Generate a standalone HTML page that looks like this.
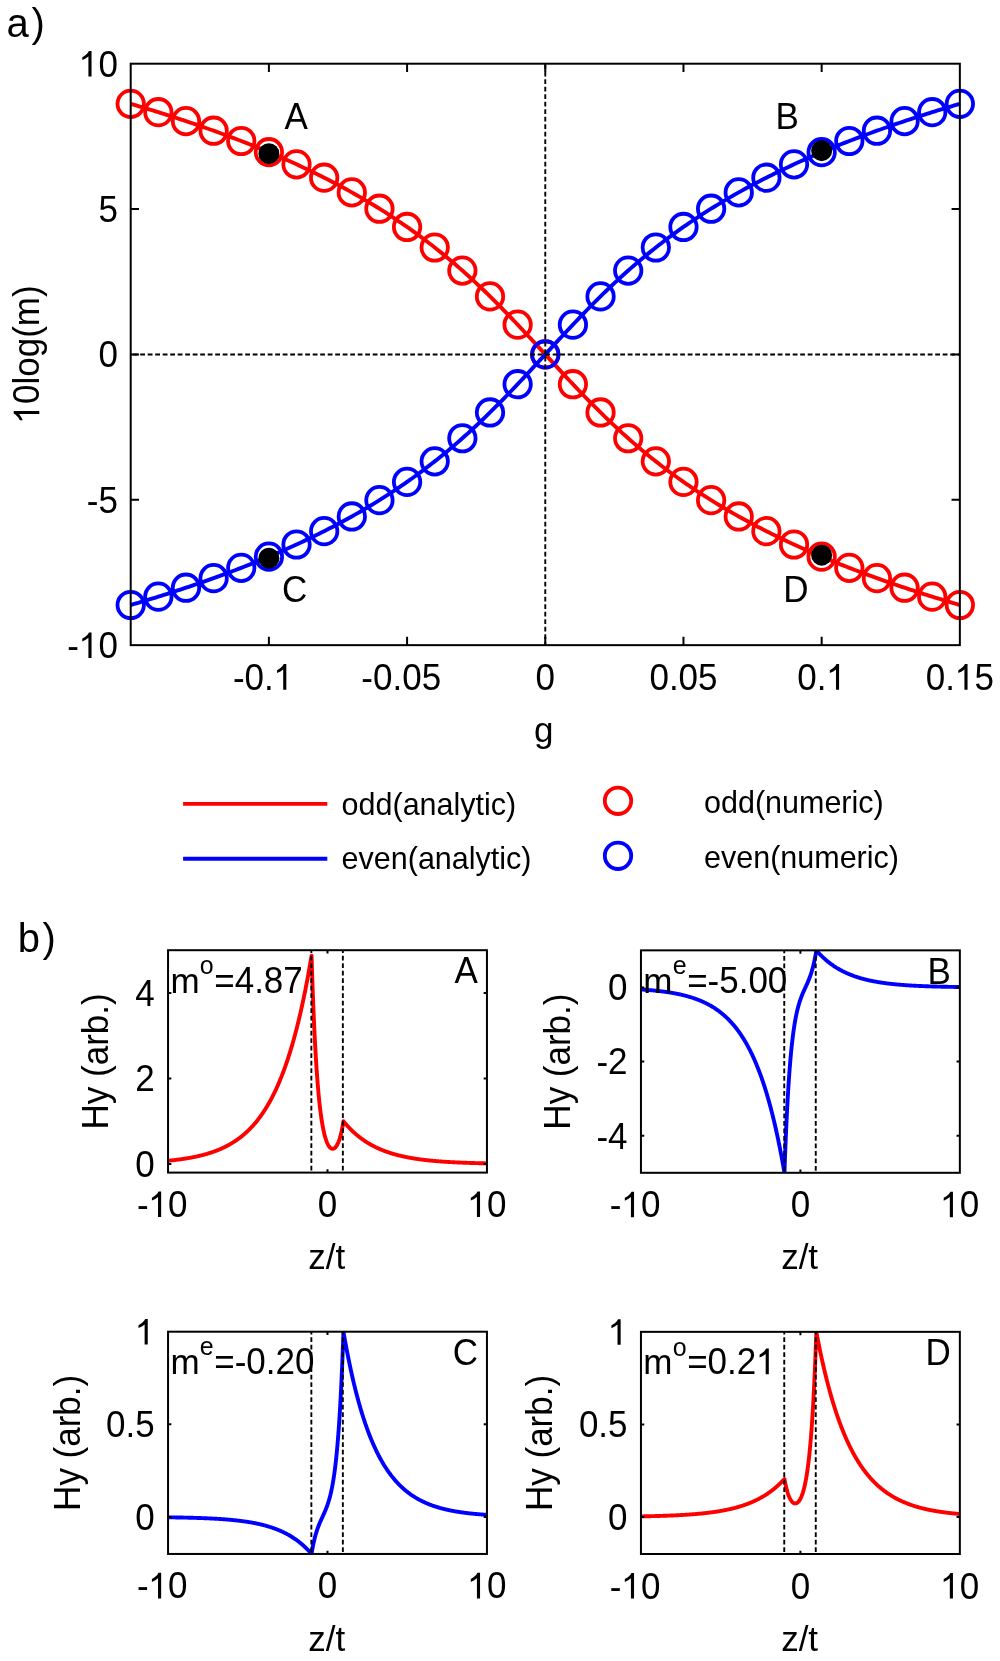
<!DOCTYPE html>
<html><head><meta charset="utf-8"><style>
html,body{margin:0;padding:0;background:#fff;}
svg{display:block;will-change:transform;}
text{font-family:"Liberation Sans",sans-serif;fill:#000;}
</style></head><body>
<svg width="1000" height="1661" viewBox="0 0 1000 1661">
<rect width="1000" height="1661" fill="#fff"/>
<path d="M130.7,103.83 L133.46,104.64 L136.23,105.46 L138.99,106.28 L141.76,107.11 L144.52,107.94 L147.28,108.78 L150.05,109.63 L152.81,110.48 L155.57,111.33 L158.34,112.19 L161.1,113.06 L163.87,113.93 L166.63,114.81 L169.39,115.69 L172.16,116.58 L174.92,117.48 L177.69,118.38 L180.45,119.29 L183.21,120.21 L185.98,121.13 L188.74,122.05 L191.5,122.99 L194.27,123.93 L197.03,124.88 L199.8,125.83 L202.56,126.79 L205.32,127.76 L208.09,128.73 L210.85,129.72 L213.62,130.7 L216.38,131.7 L219.14,132.71 L221.91,133.72 L224.67,134.74 L227.43,135.76 L230.2,136.8 L232.96,137.84 L235.73,138.89 L238.49,139.95 L241.25,141.02 L244.02,142.1 L246.78,143.18 L249.54,144.28 L252.31,145.38 L255.07,146.49 L257.84,147.61 L260.6,148.74 L263.36,149.88 L266.13,151.03 L268.89,152.19 L271.66,153.36 L274.42,154.54 L277.18,155.73 L279.95,156.93 L282.71,158.14 L285.47,159.36 L288.24,160.59 L291,161.83 L293.77,163.09 L296.53,164.35 L299.29,165.63 L302.06,166.92 L304.82,168.22 L307.59,169.53 L310.35,170.86 L313.11,172.2 L315.88,173.55 L318.64,174.91 L321.4,176.29 L324.17,177.68 L326.93,179.08 L329.7,180.5 L332.46,181.93 L335.22,183.38 L337.99,184.84 L340.75,186.32 L343.52,187.81 L346.28,189.32 L349.04,190.84 L351.81,192.38 L354.57,193.93 L357.33,195.5 L360.1,197.09 L362.86,198.69 L365.63,200.32 L368.39,201.96 L371.15,203.62 L373.92,205.29 L376.68,206.99 L379.44,208.7 L382.21,210.44 L384.97,212.19 L387.74,213.96 L390.5,215.75 L393.26,217.57 L396.03,219.4 L398.79,221.26 L401.56,223.14 L404.32,225.04 L407.08,226.96 L409.85,228.9 L412.61,230.87 L415.37,232.86 L418.14,234.88 L420.9,236.91 L423.67,238.98 L426.43,241.07 L429.19,243.18 L431.96,245.32 L434.72,247.48 L437.49,249.67 L440.25,251.88 L443.01,254.13 L445.78,256.4 L448.54,258.69 L451.3,261.01 L454.07,263.36 L456.83,265.74 L459.6,268.14 L462.36,270.58 L465.12,273.04 L467.89,275.52 L470.65,278.04 L473.42,280.58 L476.18,283.15 L478.94,285.74 L481.71,288.37 L484.47,291.01 L487.23,293.69 L490,296.39 L492.76,299.12 L495.53,301.87 L498.29,304.64 L501.05,307.44 L503.82,310.26 L506.58,313.1 L509.35,315.96 L512.11,318.84 L514.87,321.74 L517.64,324.65 L520.4,327.58 L523.16,330.53 L525.93,333.49 L528.69,336.46 L531.46,339.44 L534.22,342.42 L536.98,345.42 L539.75,348.42 L542.51,351.42 L545.28,354.43 L548.04,357.43 L550.8,360.43 L553.57,363.43 L556.33,366.43 L559.09,369.41 L561.86,372.39 L564.62,375.36 L567.39,378.32 L570.15,381.27 L572.91,384.2 L575.68,387.11 L578.44,390.01 L581.2,392.89 L583.97,395.75 L586.73,398.59 L589.5,401.41 L592.26,404.21 L595.02,406.98 L597.79,409.73 L600.55,412.46 L603.32,415.16 L606.08,417.84 L608.84,420.48 L611.61,423.11 L614.37,425.7 L617.13,428.27 L619.9,430.81 L622.66,433.33 L625.43,435.81 L628.19,438.27 L630.95,440.71 L633.72,443.11 L636.48,445.49 L639.25,447.84 L642.01,450.16 L644.77,452.45 L647.54,454.72 L650.3,456.97 L653.06,459.18 L655.83,461.37 L658.59,463.53 L661.36,465.67 L664.12,467.78 L666.88,469.87 L669.65,471.94 L672.41,473.97 L675.18,475.99 L677.94,477.98 L680.7,479.95 L683.47,481.89 L686.23,483.81 L688.99,485.71 L691.76,487.59 L694.52,489.45 L697.29,491.28 L700.05,493.1 L702.81,494.89 L705.58,496.66 L708.34,498.41 L711.11,500.15 L713.87,501.86 L716.63,503.56 L719.4,505.23 L722.16,506.89 L724.92,508.53 L727.69,510.16 L730.45,511.76 L733.22,513.35 L735.98,514.92 L738.74,516.47 L741.51,518.01 L744.27,519.53 L747.03,521.04 L749.8,522.53 L752.56,524.01 L755.33,525.47 L758.09,526.92 L760.85,528.35 L763.62,529.77 L766.38,531.17 L769.15,532.56 L771.91,533.94 L774.67,535.3 L777.44,536.65 L780.2,537.99 L782.96,539.32 L785.73,540.63 L788.49,541.93 L791.26,543.22 L794.02,544.5 L796.78,545.76 L799.55,547.02 L802.31,548.26 L805.08,549.49 L807.84,550.71 L810.6,551.92 L813.37,553.12 L816.13,554.31 L818.89,555.49 L821.66,556.66 L824.42,557.82 L827.19,558.97 L829.95,560.11 L832.71,561.24 L835.48,562.36 L838.24,563.47 L841.01,564.57 L843.77,565.67 L846.53,566.75 L849.3,567.83 L852.06,568.9 L854.82,569.96 L857.59,571.01 L860.35,572.05 L863.12,573.09 L865.88,574.11 L868.64,575.13 L871.41,576.14 L874.17,577.15 L876.94,578.15 L879.7,579.13 L882.46,580.12 L885.23,581.09 L887.99,582.06 L890.75,583.02 L893.52,583.97 L896.28,584.92 L899.05,585.86 L901.81,586.8 L904.57,587.72 L907.34,588.64 L910.1,589.56 L912.86,590.47 L915.63,591.37 L918.39,592.27 L921.16,593.16 L923.92,594.04 L926.68,594.92 L929.45,595.79 L932.21,596.66 L934.98,597.52 L937.74,598.37 L940.5,599.22 L943.27,600.07 L946.03,600.91 L948.79,601.74 L951.56,602.57 L954.32,603.39 L957.09,604.21 L959.85,605.02" stroke="#f00" stroke-width="3.9" fill="none"/>
<circle cx="130.7" cy="103.83" r="13.2" stroke="#f00" stroke-width="3.8" fill="none"/>
<circle cx="158.34" cy="112.19" r="13.2" stroke="#f00" stroke-width="3.8" fill="none"/>
<circle cx="185.98" cy="121.13" r="13.2" stroke="#f00" stroke-width="3.8" fill="none"/>
<circle cx="213.62" cy="130.7" r="13.2" stroke="#f00" stroke-width="3.8" fill="none"/>
<circle cx="241.25" cy="141.02" r="13.2" stroke="#f00" stroke-width="3.8" fill="none"/>
<circle cx="268.89" cy="152.19" r="13.2" stroke="#f00" stroke-width="3.8" fill="none"/>
<circle cx="296.53" cy="164.35" r="13.2" stroke="#f00" stroke-width="3.8" fill="none"/>
<circle cx="324.17" cy="177.68" r="13.2" stroke="#f00" stroke-width="3.8" fill="none"/>
<circle cx="351.81" cy="192.38" r="13.2" stroke="#f00" stroke-width="3.8" fill="none"/>
<circle cx="379.44" cy="208.7" r="13.2" stroke="#f00" stroke-width="3.8" fill="none"/>
<circle cx="407.08" cy="226.96" r="13.2" stroke="#f00" stroke-width="3.8" fill="none"/>
<circle cx="434.72" cy="247.48" r="13.2" stroke="#f00" stroke-width="3.8" fill="none"/>
<circle cx="462.36" cy="270.58" r="13.2" stroke="#f00" stroke-width="3.8" fill="none"/>
<circle cx="490" cy="296.39" r="13.2" stroke="#f00" stroke-width="3.8" fill="none"/>
<circle cx="517.64" cy="324.65" r="13.2" stroke="#f00" stroke-width="3.8" fill="none"/>
<circle cx="545.28" cy="354.43" r="13.2" stroke="#f00" stroke-width="3.8" fill="none"/>
<circle cx="572.91" cy="384.2" r="13.2" stroke="#f00" stroke-width="3.8" fill="none"/>
<circle cx="600.55" cy="412.46" r="13.2" stroke="#f00" stroke-width="3.8" fill="none"/>
<circle cx="628.19" cy="438.27" r="13.2" stroke="#f00" stroke-width="3.8" fill="none"/>
<circle cx="655.83" cy="461.37" r="13.2" stroke="#f00" stroke-width="3.8" fill="none"/>
<circle cx="683.47" cy="481.89" r="13.2" stroke="#f00" stroke-width="3.8" fill="none"/>
<circle cx="711.11" cy="500.15" r="13.2" stroke="#f00" stroke-width="3.8" fill="none"/>
<circle cx="738.74" cy="516.47" r="13.2" stroke="#f00" stroke-width="3.8" fill="none"/>
<circle cx="766.38" cy="531.17" r="13.2" stroke="#f00" stroke-width="3.8" fill="none"/>
<circle cx="794.02" cy="544.5" r="13.2" stroke="#f00" stroke-width="3.8" fill="none"/>
<circle cx="821.66" cy="556.66" r="13.2" stroke="#f00" stroke-width="3.8" fill="none"/>
<circle cx="849.3" cy="567.83" r="13.2" stroke="#f00" stroke-width="3.8" fill="none"/>
<circle cx="876.94" cy="578.15" r="13.2" stroke="#f00" stroke-width="3.8" fill="none"/>
<circle cx="904.57" cy="587.72" r="13.2" stroke="#f00" stroke-width="3.8" fill="none"/>
<circle cx="932.21" cy="596.66" r="13.2" stroke="#f00" stroke-width="3.8" fill="none"/>
<circle cx="959.85" cy="605.02" r="13.2" stroke="#f00" stroke-width="3.8" fill="none"/>
<path d="M130.7,605.02 L133.46,604.21 L136.23,603.39 L138.99,602.57 L141.76,601.74 L144.52,600.91 L147.28,600.07 L150.05,599.22 L152.81,598.37 L155.57,597.52 L158.34,596.66 L161.1,595.79 L163.87,594.92 L166.63,594.04 L169.39,593.16 L172.16,592.27 L174.92,591.37 L177.69,590.47 L180.45,589.56 L183.21,588.64 L185.98,587.72 L188.74,586.8 L191.5,585.86 L194.27,584.92 L197.03,583.97 L199.8,583.02 L202.56,582.06 L205.32,581.09 L208.09,580.12 L210.85,579.13 L213.62,578.15 L216.38,577.15 L219.14,576.14 L221.91,575.13 L224.67,574.11 L227.43,573.09 L230.2,572.05 L232.96,571.01 L235.73,569.96 L238.49,568.9 L241.25,567.83 L244.02,566.75 L246.78,565.67 L249.54,564.57 L252.31,563.47 L255.07,562.36 L257.84,561.24 L260.6,560.11 L263.36,558.97 L266.13,557.82 L268.89,556.66 L271.66,555.49 L274.42,554.31 L277.18,553.12 L279.95,551.92 L282.71,550.71 L285.47,549.49 L288.24,548.26 L291,547.02 L293.77,545.76 L296.53,544.5 L299.29,543.22 L302.06,541.93 L304.82,540.63 L307.59,539.32 L310.35,537.99 L313.11,536.65 L315.88,535.3 L318.64,533.94 L321.4,532.56 L324.17,531.17 L326.93,529.77 L329.7,528.35 L332.46,526.92 L335.22,525.47 L337.99,524.01 L340.75,522.53 L343.52,521.04 L346.28,519.53 L349.04,518.01 L351.81,516.47 L354.57,514.92 L357.33,513.35 L360.1,511.76 L362.86,510.16 L365.63,508.53 L368.39,506.89 L371.15,505.23 L373.92,503.56 L376.68,501.86 L379.44,500.15 L382.21,498.41 L384.97,496.66 L387.74,494.89 L390.5,493.1 L393.26,491.28 L396.03,489.45 L398.79,487.59 L401.56,485.71 L404.32,483.81 L407.08,481.89 L409.85,479.95 L412.61,477.98 L415.37,475.99 L418.14,473.97 L420.9,471.94 L423.67,469.87 L426.43,467.78 L429.19,465.67 L431.96,463.53 L434.72,461.37 L437.49,459.18 L440.25,456.97 L443.01,454.72 L445.78,452.45 L448.54,450.16 L451.3,447.84 L454.07,445.49 L456.83,443.11 L459.6,440.71 L462.36,438.27 L465.12,435.81 L467.89,433.33 L470.65,430.81 L473.42,428.27 L476.18,425.7 L478.94,423.11 L481.71,420.48 L484.47,417.84 L487.23,415.16 L490,412.46 L492.76,409.73 L495.53,406.98 L498.29,404.21 L501.05,401.41 L503.82,398.59 L506.58,395.75 L509.35,392.89 L512.11,390.01 L514.87,387.11 L517.64,384.2 L520.4,381.27 L523.16,378.32 L525.93,375.36 L528.69,372.39 L531.46,369.41 L534.22,366.43 L536.98,363.43 L539.75,360.43 L542.51,357.43 L545.28,354.43 L548.04,351.42 L550.8,348.42 L553.57,345.42 L556.33,342.42 L559.09,339.44 L561.86,336.46 L564.62,333.49 L567.39,330.53 L570.15,327.58 L572.91,324.65 L575.68,321.74 L578.44,318.84 L581.2,315.96 L583.97,313.1 L586.73,310.26 L589.5,307.44 L592.26,304.64 L595.02,301.87 L597.79,299.12 L600.55,296.39 L603.32,293.69 L606.08,291.01 L608.84,288.37 L611.61,285.74 L614.37,283.15 L617.13,280.58 L619.9,278.04 L622.66,275.52 L625.43,273.04 L628.19,270.58 L630.95,268.14 L633.72,265.74 L636.48,263.36 L639.25,261.01 L642.01,258.69 L644.77,256.4 L647.54,254.13 L650.3,251.88 L653.06,249.67 L655.83,247.48 L658.59,245.32 L661.36,243.18 L664.12,241.07 L666.88,238.98 L669.65,236.91 L672.41,234.88 L675.18,232.86 L677.94,230.87 L680.7,228.9 L683.47,226.96 L686.23,225.04 L688.99,223.14 L691.76,221.26 L694.52,219.4 L697.29,217.57 L700.05,215.75 L702.81,213.96 L705.58,212.19 L708.34,210.44 L711.11,208.7 L713.87,206.99 L716.63,205.29 L719.4,203.62 L722.16,201.96 L724.92,200.32 L727.69,198.69 L730.45,197.09 L733.22,195.5 L735.98,193.93 L738.74,192.38 L741.51,190.84 L744.27,189.32 L747.03,187.81 L749.8,186.32 L752.56,184.84 L755.33,183.38 L758.09,181.93 L760.85,180.5 L763.62,179.08 L766.38,177.68 L769.15,176.29 L771.91,174.91 L774.67,173.55 L777.44,172.2 L780.2,170.86 L782.96,169.53 L785.73,168.22 L788.49,166.92 L791.26,165.63 L794.02,164.35 L796.78,163.09 L799.55,161.83 L802.31,160.59 L805.08,159.36 L807.84,158.14 L810.6,156.93 L813.37,155.73 L816.13,154.54 L818.89,153.36 L821.66,152.19 L824.42,151.03 L827.19,149.88 L829.95,148.74 L832.71,147.61 L835.48,146.49 L838.24,145.38 L841.01,144.28 L843.77,143.18 L846.53,142.1 L849.3,141.02 L852.06,139.95 L854.82,138.89 L857.59,137.84 L860.35,136.8 L863.12,135.76 L865.88,134.74 L868.64,133.72 L871.41,132.71 L874.17,131.7 L876.94,130.7 L879.7,129.72 L882.46,128.73 L885.23,127.76 L887.99,126.79 L890.75,125.83 L893.52,124.88 L896.28,123.93 L899.05,122.99 L901.81,122.05 L904.57,121.13 L907.34,120.21 L910.1,119.29 L912.86,118.38 L915.63,117.48 L918.39,116.58 L921.16,115.69 L923.92,114.81 L926.68,113.93 L929.45,113.06 L932.21,112.19 L934.98,111.33 L937.74,110.48 L940.5,109.63 L943.27,108.78 L946.03,107.94 L948.79,107.11 L951.56,106.28 L954.32,105.46 L957.09,104.64 L959.85,103.83" stroke="#00f" stroke-width="3.9" fill="none"/>
<circle cx="130.7" cy="605.02" r="13.2" stroke="#00f" stroke-width="3.8" fill="none"/>
<circle cx="158.34" cy="596.66" r="13.2" stroke="#00f" stroke-width="3.8" fill="none"/>
<circle cx="185.98" cy="587.72" r="13.2" stroke="#00f" stroke-width="3.8" fill="none"/>
<circle cx="213.62" cy="578.15" r="13.2" stroke="#00f" stroke-width="3.8" fill="none"/>
<circle cx="241.25" cy="567.83" r="13.2" stroke="#00f" stroke-width="3.8" fill="none"/>
<circle cx="268.89" cy="556.66" r="13.2" stroke="#00f" stroke-width="3.8" fill="none"/>
<circle cx="296.53" cy="544.5" r="13.2" stroke="#00f" stroke-width="3.8" fill="none"/>
<circle cx="324.17" cy="531.17" r="13.2" stroke="#00f" stroke-width="3.8" fill="none"/>
<circle cx="351.81" cy="516.47" r="13.2" stroke="#00f" stroke-width="3.8" fill="none"/>
<circle cx="379.44" cy="500.15" r="13.2" stroke="#00f" stroke-width="3.8" fill="none"/>
<circle cx="407.08" cy="481.89" r="13.2" stroke="#00f" stroke-width="3.8" fill="none"/>
<circle cx="434.72" cy="461.37" r="13.2" stroke="#00f" stroke-width="3.8" fill="none"/>
<circle cx="462.36" cy="438.27" r="13.2" stroke="#00f" stroke-width="3.8" fill="none"/>
<circle cx="490" cy="412.46" r="13.2" stroke="#00f" stroke-width="3.8" fill="none"/>
<circle cx="517.64" cy="384.2" r="13.2" stroke="#00f" stroke-width="3.8" fill="none"/>
<circle cx="545.28" cy="354.43" r="13.2" stroke="#00f" stroke-width="3.8" fill="none"/>
<circle cx="572.91" cy="324.65" r="13.2" stroke="#00f" stroke-width="3.8" fill="none"/>
<circle cx="600.55" cy="296.39" r="13.2" stroke="#00f" stroke-width="3.8" fill="none"/>
<circle cx="628.19" cy="270.58" r="13.2" stroke="#00f" stroke-width="3.8" fill="none"/>
<circle cx="655.83" cy="247.48" r="13.2" stroke="#00f" stroke-width="3.8" fill="none"/>
<circle cx="683.47" cy="226.96" r="13.2" stroke="#00f" stroke-width="3.8" fill="none"/>
<circle cx="711.11" cy="208.7" r="13.2" stroke="#00f" stroke-width="3.8" fill="none"/>
<circle cx="738.74" cy="192.38" r="13.2" stroke="#00f" stroke-width="3.8" fill="none"/>
<circle cx="766.38" cy="177.68" r="13.2" stroke="#00f" stroke-width="3.8" fill="none"/>
<circle cx="794.02" cy="164.35" r="13.2" stroke="#00f" stroke-width="3.8" fill="none"/>
<circle cx="821.66" cy="152.19" r="13.2" stroke="#00f" stroke-width="3.8" fill="none"/>
<circle cx="849.3" cy="141.02" r="13.2" stroke="#00f" stroke-width="3.8" fill="none"/>
<circle cx="876.94" cy="130.7" r="13.2" stroke="#00f" stroke-width="3.8" fill="none"/>
<circle cx="904.57" cy="121.13" r="13.2" stroke="#00f" stroke-width="3.8" fill="none"/>
<circle cx="932.21" cy="112.19" r="13.2" stroke="#00f" stroke-width="3.8" fill="none"/>
<circle cx="959.85" cy="103.83" r="13.2" stroke="#00f" stroke-width="3.8" fill="none"/>
<circle cx="268.89" cy="153.69" r="10.5" fill="#000"/>
<circle cx="821.66" cy="150.69" r="10.5" fill="#000"/>
<circle cx="268.89" cy="558.16" r="10.5" fill="#000"/>
<circle cx="821.66" cy="555.16" r="10.5" fill="#000"/>
<line x1="545.28" y1="63.7" x2="545.28" y2="645.15" stroke="#000" stroke-width="1.9" stroke-dasharray="4.8 2.7" stroke-dashoffset="6.9"/>
<line x1="130.7" y1="354.43" x2="959.85" y2="354.43" stroke="#000" stroke-width="1.9" stroke-dasharray="4.8 2.7" stroke-dashoffset="5.5"/>
<rect x="130.7" y="63.7" width="829.15" height="581.45" stroke="#000" stroke-width="2" fill="none"/>
<path d="M268.89,645.15 v-8.3 M268.89,63.7 v8.3" stroke="#000" stroke-width="2" fill="none"/>
<path d="M407.08,645.15 v-8.3 M407.08,63.7 v8.3" stroke="#000" stroke-width="2" fill="none"/>
<path d="M545.28,645.15 v-8.3 M545.28,63.7 v8.3" stroke="#000" stroke-width="2" fill="none"/>
<path d="M683.47,645.15 v-8.3 M683.47,63.7 v8.3" stroke="#000" stroke-width="2" fill="none"/>
<path d="M821.66,645.15 v-8.3 M821.66,63.7 v8.3" stroke="#000" stroke-width="2" fill="none"/>
<path d="M130.7,499.79 h8.3 M959.85,499.79 h-8.3" stroke="#000" stroke-width="2" fill="none"/>
<path d="M130.7,354.43 h8.3 M959.85,354.43 h-8.3" stroke="#000" stroke-width="2" fill="none"/>
<path d="M130.7,209.06 h8.3 M959.85,209.06 h-8.3" stroke="#000" stroke-width="2" fill="none"/>
<g transform="translate(263.06,689.65) scale(1,1.04)"><text x="-30.16" y="0" font-size="35" xml:space="preserve">-0.</text><path transform="translate(10.69,0) scale(35)" d="M0.359,0 V-0.703 H0.285 Q0.24,-0.61 0.095,-0.535 V-0.455 Q0.2,-0.5 0.27,-0.555 V0 Z"/></g>
<g transform="translate(401.25,689.65) scale(1,1.04)"><text x="-39.89" y="0" font-size="35" xml:space="preserve">-0.05</text></g>
<g transform="translate(545.28,689.65) scale(1,1.04)"><text x="-9.73" y="0" font-size="35" xml:space="preserve">0</text></g>
<g transform="translate(683.47,689.65) scale(1,1.04)"><text x="-34.06" y="0" font-size="35" xml:space="preserve">0.05</text></g>
<g transform="translate(821.66,689.65) scale(1,1.04)"><text x="-24.33" y="0" font-size="35" xml:space="preserve">0.</text><path transform="translate(4.86,0) scale(35)" d="M0.359,0 V-0.703 H0.285 Q0.24,-0.61 0.095,-0.535 V-0.455 Q0.2,-0.5 0.27,-0.555 V0 Z"/></g>
<g transform="translate(959.85,689.65) scale(1,1.04)"><text x="-34.06" y="0" font-size="35" xml:space="preserve">0.</text><path transform="translate(-4.87,0) scale(35)" d="M0.359,0 V-0.703 H0.285 Q0.24,-0.61 0.095,-0.535 V-0.455 Q0.2,-0.5 0.27,-0.555 V0 Z"/><text x="14.59" y="0" font-size="35" xml:space="preserve">5</text></g>
<g transform="translate(117.9,76.6) scale(1,1.04)"><path transform="translate(-38.93,0) scale(35)" d="M0.359,0 V-0.703 H0.285 Q0.24,-0.61 0.095,-0.535 V-0.455 Q0.2,-0.5 0.27,-0.555 V0 Z"/><text x="-19.47" y="0" font-size="35" xml:space="preserve">0</text></g>
<g transform="translate(117.9,221.96) scale(1,1.04)"><text x="-19.47" y="0" font-size="35" xml:space="preserve">5</text></g>
<g transform="translate(117.9,367.32) scale(1,1.04)"><text x="-19.47" y="0" font-size="35" xml:space="preserve">0</text></g>
<g transform="translate(117.9,512.69) scale(1,1.04)"><text x="-31.12" y="0" font-size="35" xml:space="preserve">-5</text></g>
<g transform="translate(117.9,658.05) scale(1,1.04)"><text x="-50.59" y="0" font-size="35" xml:space="preserve">-</text><path transform="translate(-38.93,0) scale(35)" d="M0.359,0 V-0.703 H0.285 Q0.24,-0.61 0.095,-0.535 V-0.455 Q0.2,-0.5 0.27,-0.555 V0 Z"/><text x="-19.47" y="0" font-size="35" xml:space="preserve">0</text></g>
<g transform="translate(543.78,742.45) scale(1,1.0)"><text x="-9.73" y="0" font-size="35" xml:space="preserve">g</text></g>
<g transform="translate(39.3,354.43) rotate(-90) scale(1,1.04)"><path transform="translate(-69.05,0) scale(35)" d="M0.359,0 V-0.703 H0.285 Q0.24,-0.61 0.095,-0.535 V-0.455 Q0.2,-0.5 0.27,-0.555 V0 Z"/><text x="-49.59" y="0" font-size="35" xml:space="preserve">0log(m)</text></g>
<g transform="translate(6.4,36.6) scale(1,1.0)"><text x="0" y="0" font-size="40" xml:space="preserve">a</text></g>
<g transform="translate(31.4,36.6) scale(1,1.0)"><text x="0" y="0" font-size="40" xml:space="preserve">)</text></g>
<g transform="translate(284.4,129.4) scale(1,1.044)"><text x="0" y="0" font-size="35" xml:space="preserve">A</text></g>
<g transform="translate(775.5,129.4) scale(1,1.044)"><text x="0" y="0" font-size="35" xml:space="preserve">B</text></g>
<g transform="translate(282,601.5) scale(1,1.044)"><text x="0" y="0" font-size="35" xml:space="preserve">C</text></g>
<g transform="translate(783.3,601.5) scale(1,1.044)"><text x="0" y="0" font-size="35" xml:space="preserve">D</text></g>
<path d="M183.1,803.85 H327.3" stroke="#f00" stroke-width="3.9"/>
<path d="M183.1,858.75 H327.3" stroke="#00f" stroke-width="3.9"/>
<circle cx="618" cy="800.8" r="13.2" stroke="#f00" stroke-width="3.8" fill="none"/>
<circle cx="618" cy="855.8" r="13.2" stroke="#00f" stroke-width="3.8" fill="none"/>
<g transform="translate(341.6,814.6) scale(1,1.0)"><text x="0" y="0" font-size="30.5" xml:space="preserve">odd(analytic)</text></g>
<g transform="translate(341.6,868.6) scale(1,1.0)"><text x="0" y="0" font-size="30.5" xml:space="preserve">even(analytic)</text></g>
<g transform="translate(704,812.8) scale(1,1.0)"><text x="0" y="0" font-size="30.5" xml:space="preserve">odd(numeric)</text></g>
<g transform="translate(704,868) scale(1,1.0)"><text x="0" y="0" font-size="30.5" xml:space="preserve">even(numeric)</text></g>
<g transform="translate(17.7,951.5) scale(1,1.0)"><text x="0" y="0" font-size="40" xml:space="preserve">b</text></g>
<g transform="translate(42.5,951.5) scale(1,1.0)"><text x="0" y="0" font-size="40" xml:space="preserve">)</text></g>
<clipPath id="cA"><rect x="168.05" y="950.2" width="318.9" height="222.4"/></clipPath>
<path d="M168.05,1160.73 L168.45,1160.69 L168.85,1160.65 L169.25,1160.61 L169.64,1160.57 L170.04,1160.53 L170.44,1160.49 L170.84,1160.45 L171.24,1160.41 L171.64,1160.37 L172.04,1160.33 L172.43,1160.28 L172.83,1160.24 L173.23,1160.19 L173.63,1160.15 L174.03,1160.11 L174.43,1160.06 L174.83,1160.01 L175.23,1159.97 L175.62,1159.92 L176.02,1159.87 L176.42,1159.82 L176.82,1159.77 L177.22,1159.73 L177.62,1159.68 L178.02,1159.62 L178.41,1159.57 L178.81,1159.52 L179.21,1159.47 L179.61,1159.42 L180.01,1159.36 L180.41,1159.31 L180.81,1159.25 L181.2,1159.2 L181.6,1159.14 L182,1159.09 L182.4,1159.03 L182.8,1158.97 L183.2,1158.91 L183.6,1158.85 L184,1158.79 L184.39,1158.73 L184.79,1158.67 L185.19,1158.61 L185.59,1158.55 L185.99,1158.48 L186.39,1158.42 L186.79,1158.35 L187.18,1158.29 L187.58,1158.22 L187.98,1158.15 L188.38,1158.08 L188.78,1158.02 L189.18,1157.95 L189.58,1157.87 L189.97,1157.8 L190.37,1157.73 L190.77,1157.66 L191.17,1157.58 L191.57,1157.51 L191.97,1157.43 L192.37,1157.36 L192.76,1157.28 L193.16,1157.2 L193.56,1157.12 L193.96,1157.04 L194.36,1156.96 L194.76,1156.88 L195.16,1156.8 L195.56,1156.71 L195.95,1156.63 L196.35,1156.54 L196.75,1156.46 L197.15,1156.37 L197.55,1156.28 L197.95,1156.19 L198.35,1156.1 L198.74,1156.01 L199.14,1155.91 L199.54,1155.82 L199.94,1155.72 L200.34,1155.63 L200.74,1155.53 L201.14,1155.43 L201.53,1155.33 L201.93,1155.23 L202.33,1155.13 L202.73,1155.03 L203.13,1154.92 L203.53,1154.82 L203.93,1154.71 L204.32,1154.6 L204.72,1154.49 L205.12,1154.38 L205.52,1154.27 L205.92,1154.16 L206.32,1154.04 L206.72,1153.93 L207.12,1153.81 L207.51,1153.69 L207.91,1153.57 L208.31,1153.45 L208.71,1153.33 L209.11,1153.2 L209.51,1153.08 L209.91,1152.95 L210.3,1152.82 L210.7,1152.69 L211.1,1152.56 L211.5,1152.43 L211.9,1152.3 L212.3,1152.16 L212.7,1152.02 L213.09,1151.88 L213.49,1151.74 L213.89,1151.6 L214.29,1151.46 L214.69,1151.31 L215.09,1151.16 L215.49,1151.01 L215.88,1150.86 L216.28,1150.71 L216.68,1150.56 L217.08,1150.4 L217.48,1150.24 L217.88,1150.08 L218.28,1149.92 L218.68,1149.76 L219.07,1149.59 L219.47,1149.43 L219.87,1149.26 L220.27,1149.09 L220.67,1148.91 L221.07,1148.74 L221.47,1148.56 L221.86,1148.38 L222.26,1148.2 L222.66,1148.02 L223.06,1147.83 L223.46,1147.64 L223.86,1147.45 L224.26,1147.26 L224.65,1147.07 L225.05,1146.87 L225.45,1146.67 L225.85,1146.47 L226.25,1146.27 L226.65,1146.06 L227.05,1145.86 L227.45,1145.65 L227.84,1145.43 L228.24,1145.22 L228.64,1145 L229.04,1144.78 L229.44,1144.56 L229.84,1144.33 L230.24,1144.1 L230.63,1143.87 L231.03,1143.64 L231.43,1143.4 L231.83,1143.16 L232.23,1142.92 L232.63,1142.68 L233.03,1142.43 L233.42,1142.18 L233.82,1141.93 L234.22,1141.67 L234.62,1141.41 L235.02,1141.15 L235.42,1140.89 L235.82,1140.62 L236.21,1140.35 L236.61,1140.07 L237.01,1139.8 L237.41,1139.52 L237.81,1139.23 L238.21,1138.95 L238.61,1138.65 L239.01,1138.36 L239.4,1138.06 L239.8,1137.76 L240.2,1137.46 L240.6,1137.15 L241,1136.84 L241.4,1136.53 L241.8,1136.21 L242.19,1135.89 L242.59,1135.56 L242.99,1135.23 L243.39,1134.9 L243.79,1134.56 L244.19,1134.22 L244.59,1133.87 L244.98,1133.53 L245.38,1133.17 L245.78,1132.82 L246.18,1132.45 L246.58,1132.09 L246.98,1131.72 L247.38,1131.34 L247.78,1130.97 L248.17,1130.58 L248.57,1130.2 L248.97,1129.81 L249.37,1129.41 L249.77,1129.01 L250.17,1128.6 L250.57,1128.19 L250.96,1127.78 L251.36,1127.36 L251.76,1126.94 L252.16,1126.51 L252.56,1126.07 L252.96,1125.63 L253.36,1125.19 L253.75,1124.74 L254.15,1124.28 L254.55,1123.82 L254.95,1123.36 L255.35,1122.89 L255.75,1122.41 L256.15,1121.93 L256.54,1121.44 L256.94,1120.95 L257.34,1120.45 L257.74,1119.95 L258.14,1119.44 L258.54,1118.92 L258.94,1118.4 L259.34,1117.87 L259.73,1117.34 L260.13,1116.8 L260.53,1116.25 L260.93,1115.7 L261.33,1115.14 L261.73,1114.57 L262.13,1114 L262.52,1113.42 L262.92,1112.84 L263.32,1112.24 L263.72,1111.65 L264.12,1111.04 L264.52,1110.43 L264.92,1109.81 L265.31,1109.18 L265.71,1108.54 L266.11,1107.9 L266.51,1107.25 L266.91,1106.6 L267.31,1105.93 L267.71,1105.26 L268.1,1104.58 L268.5,1103.89 L268.9,1103.2 L269.3,1102.49 L269.7,1101.78 L270.1,1101.06 L270.5,1100.33 L270.9,1099.59 L271.29,1098.85 L271.69,1098.1 L272.09,1097.33 L272.49,1096.56 L272.89,1095.78 L273.29,1094.99 L273.69,1094.19 L274.08,1093.38 L274.48,1092.57 L274.88,1091.74 L275.28,1090.9 L275.68,1090.06 L276.08,1089.2 L276.48,1088.34 L276.87,1087.46 L277.27,1086.57 L277.67,1085.68 L278.07,1084.77 L278.47,1083.86 L278.87,1082.93 L279.27,1081.99 L279.66,1081.04 L280.06,1080.08 L280.46,1079.11 L280.86,1078.13 L281.26,1077.13 L281.66,1076.13 L282.06,1075.11 L282.46,1074.08 L282.85,1073.04 L283.25,1071.99 L283.65,1070.92 L284.05,1069.85 L284.45,1068.76 L284.85,1067.66 L285.25,1066.54 L285.64,1065.41 L286.04,1064.27 L286.44,1063.12 L286.84,1061.95 L287.24,1060.77 L287.64,1059.57 L288.04,1058.37 L288.43,1057.14 L288.83,1055.91 L289.23,1054.66 L289.63,1053.39 L290.03,1052.11 L290.43,1050.82 L290.83,1049.51 L291.23,1048.18 L291.62,1046.84 L292.02,1045.49 L292.42,1044.12 L292.82,1042.73 L293.22,1041.33 L293.62,1039.91 L294.02,1038.47 L294.41,1037.02 L294.81,1035.55 L295.21,1034.06 L295.61,1032.56 L296.01,1031.04 L296.41,1029.5 L296.81,1027.94 L297.2,1026.37 L297.6,1024.78 L298,1023.17 L298.4,1021.54 L298.8,1019.89 L299.2,1018.22 L299.6,1016.53 L299.99,1014.83 L300.39,1013.1 L300.79,1011.36 L301.19,1009.59 L301.59,1007.8 L301.99,1006 L302.39,1004.17 L302.79,1002.32 L303.18,1000.45 L303.58,998.56 L303.98,996.64 L304.38,994.71 L304.78,992.75 L305.18,990.77 L305.58,988.76 L305.97,986.73 L306.37,984.68 L306.77,982.61 L307.17,980.51 L307.57,978.39 L307.97,976.24 L308.37,974.07 L308.76,971.87 L309.16,969.65 L309.56,967.4 L309.96,965.12 L310.36,962.82 L310.76,960.5 L311.16,958.14 L311.56,955.76 L311.95,968.34 L312.35,980.16 L312.75,991.27 L313.15,1001.69 L313.55,1011.48 L313.95,1020.68 L314.35,1029.31 L314.74,1037.42 L315.14,1045.04 L315.54,1052.19 L315.94,1058.9 L316.34,1065.2 L316.74,1071.12 L317.14,1076.67 L317.53,1081.88 L317.93,1086.77 L318.33,1091.35 L318.73,1095.66 L319.13,1099.69 L319.53,1103.48 L319.93,1107.03 L320.32,1110.35 L320.72,1113.47 L321.12,1116.38 L321.52,1119.12 L321.92,1121.67 L322.32,1124.06 L322.72,1126.3 L323.12,1128.38 L323.51,1130.33 L323.91,1132.15 L324.31,1133.84 L324.71,1135.41 L325.11,1136.87 L325.51,1138.22 L325.91,1139.48 L326.3,1140.64 L326.7,1141.7 L327.1,1142.68 L327.5,1143.58 L327.9,1144.39 L328.3,1145.13 L328.7,1145.8 L329.09,1146.39 L329.49,1146.91 L329.89,1147.37 L330.29,1147.76 L330.69,1148.09 L331.09,1148.36 L331.49,1148.56 L331.88,1148.71 L332.28,1148.79 L332.68,1148.82 L333.08,1148.78 L333.48,1148.69 L333.88,1148.53 L334.28,1148.32 L334.68,1148.04 L335.07,1147.7 L335.47,1147.3 L335.87,1146.83 L336.27,1146.3 L336.67,1145.69 L337.07,1145.02 L337.47,1144.27 L337.86,1143.44 L338.26,1142.53 L338.66,1141.54 L339.06,1140.46 L339.46,1139.29 L339.86,1138.02 L340.26,1136.64 L340.65,1135.17 L341.05,1133.58 L341.45,1131.87 L341.85,1130.03 L342.25,1128.06 L342.65,1125.95 L343.05,1123.69 L343.45,1121.28 L343.84,1121.77 L344.24,1122.25 L344.64,1122.73 L345.04,1123.2 L345.44,1123.67 L345.84,1124.13 L346.24,1124.58 L346.63,1125.04 L347.03,1125.48 L347.43,1125.92 L347.83,1126.36 L348.23,1126.79 L348.63,1127.22 L349.03,1127.64 L349.42,1128.05 L349.82,1128.46 L350.22,1128.87 L350.62,1129.27 L351.02,1129.67 L351.42,1130.06 L351.82,1130.45 L352.21,1130.84 L352.61,1131.22 L353.01,1131.59 L353.41,1131.96 L353.81,1132.33 L354.21,1132.69 L354.61,1133.05 L355.01,1133.41 L355.4,1133.76 L355.8,1134.1 L356.2,1134.44 L356.6,1134.78 L357,1135.12 L357.4,1135.45 L357.8,1135.78 L358.19,1136.1 L358.59,1136.42 L358.99,1136.73 L359.39,1137.05 L359.79,1137.36 L360.19,1137.66 L360.59,1137.96 L360.98,1138.26 L361.38,1138.56 L361.78,1138.85 L362.18,1139.13 L362.58,1139.42 L362.98,1139.7 L363.38,1139.98 L363.77,1140.25 L364.17,1140.53 L364.57,1140.8 L364.97,1141.06 L365.37,1141.32 L365.77,1141.58 L366.17,1141.84 L366.57,1142.1 L366.96,1142.35 L367.36,1142.59 L367.76,1142.84 L368.16,1143.08 L368.56,1143.32 L368.96,1143.56 L369.36,1143.79 L369.75,1144.02 L370.15,1144.25 L370.55,1144.48 L370.95,1144.7 L371.35,1144.92 L371.75,1145.14 L372.15,1145.36 L372.54,1145.57 L372.94,1145.78 L373.34,1145.99 L373.74,1146.2 L374.14,1146.4 L374.54,1146.61 L374.94,1146.8 L375.34,1147 L375.73,1147.2 L376.13,1147.39 L376.53,1147.58 L376.93,1147.77 L377.33,1147.95 L377.73,1148.14 L378.13,1148.32 L378.52,1148.5 L378.92,1148.68 L379.32,1148.85 L379.72,1149.03 L380.12,1149.2 L380.52,1149.37 L380.92,1149.54 L381.31,1149.7 L381.71,1149.87 L382.11,1150.03 L382.51,1150.19 L382.91,1150.35 L383.31,1150.5 L383.71,1150.66 L384.1,1150.81 L384.5,1150.96 L384.9,1151.11 L385.3,1151.26 L385.7,1151.41 L386.1,1151.55 L386.5,1151.69 L386.9,1151.84 L387.29,1151.97 L387.69,1152.11 L388.09,1152.25 L388.49,1152.38 L388.89,1152.52 L389.29,1152.65 L389.69,1152.78 L390.08,1152.91 L390.48,1153.04 L390.88,1153.16 L391.28,1153.29 L391.68,1153.41 L392.08,1153.53 L392.48,1153.65 L392.87,1153.77 L393.27,1153.89 L393.67,1154 L394.07,1154.12 L394.47,1154.23 L394.87,1154.34 L395.27,1154.46 L395.66,1154.56 L396.06,1154.67 L396.46,1154.78 L396.86,1154.89 L397.26,1154.99 L397.66,1155.09 L398.06,1155.2 L398.46,1155.3 L398.85,1155.4 L399.25,1155.5 L399.65,1155.59 L400.05,1155.69 L400.45,1155.79 L400.85,1155.88 L401.25,1155.97 L401.64,1156.07 L402.04,1156.16 L402.44,1156.25 L402.84,1156.34 L403.24,1156.43 L403.64,1156.51 L404.04,1156.6 L404.43,1156.68 L404.83,1156.77 L405.23,1156.85 L405.63,1156.93 L406.03,1157.02 L406.43,1157.1 L406.83,1157.18 L407.23,1157.25 L407.62,1157.33 L408.02,1157.41 L408.42,1157.48 L408.82,1157.56 L409.22,1157.63 L409.62,1157.71 L410.02,1157.78 L410.41,1157.85 L410.81,1157.92 L411.21,1157.99 L411.61,1158.06 L412.01,1158.13 L412.41,1158.2 L412.81,1158.26 L413.2,1158.33 L413.6,1158.4 L414,1158.46 L414.4,1158.52 L414.8,1158.59 L415.2,1158.65 L415.6,1158.71 L415.99,1158.77 L416.39,1158.83 L416.79,1158.89 L417.19,1158.95 L417.59,1159.01 L417.99,1159.07 L418.39,1159.12 L418.79,1159.18 L419.18,1159.24 L419.58,1159.29 L419.98,1159.34 L420.38,1159.4 L420.78,1159.45 L421.18,1159.5 L421.58,1159.56 L421.97,1159.61 L422.37,1159.66 L422.77,1159.71 L423.17,1159.76 L423.57,1159.81 L423.97,1159.86 L424.37,1159.9 L424.76,1159.95 L425.16,1160 L425.56,1160.04 L425.96,1160.09 L426.36,1160.14 L426.76,1160.18 L427.16,1160.22 L427.55,1160.27 L427.95,1160.31 L428.35,1160.35 L428.75,1160.4 L429.15,1160.44 L429.55,1160.48 L429.95,1160.52 L430.35,1160.56 L430.74,1160.6 L431.14,1160.64 L431.54,1160.68 L431.94,1160.72 L432.34,1160.75 L432.74,1160.79 L433.14,1160.83 L433.53,1160.87 L433.93,1160.9 L434.33,1160.94 L434.73,1160.97 L435.13,1161.01 L435.53,1161.04 L435.93,1161.08 L436.32,1161.11 L436.72,1161.15 L437.12,1161.18 L437.52,1161.21 L437.92,1161.24 L438.32,1161.28 L438.72,1161.31 L439.12,1161.34 L439.51,1161.37 L439.91,1161.4 L440.31,1161.43 L440.71,1161.46 L441.11,1161.49 L441.51,1161.52 L441.91,1161.55 L442.3,1161.58 L442.7,1161.61 L443.1,1161.63 L443.5,1161.66 L443.9,1161.69 L444.3,1161.72 L444.7,1161.74 L445.09,1161.77 L445.49,1161.79 L445.89,1161.82 L446.29,1161.85 L446.69,1161.87 L447.09,1161.9 L447.49,1161.92 L447.88,1161.94 L448.28,1161.97 L448.68,1161.99 L449.08,1162.02 L449.48,1162.04 L449.88,1162.06 L450.28,1162.08 L450.68,1162.11 L451.07,1162.13 L451.47,1162.15 L451.87,1162.17 L452.27,1162.19 L452.67,1162.22 L453.07,1162.24 L453.47,1162.26 L453.86,1162.28 L454.26,1162.3 L454.66,1162.32 L455.06,1162.34 L455.46,1162.36 L455.86,1162.38 L456.26,1162.4 L456.65,1162.41 L457.05,1162.43 L457.45,1162.45 L457.85,1162.47 L458.25,1162.49 L458.65,1162.51 L459.05,1162.52 L459.44,1162.54 L459.84,1162.56 L460.24,1162.57 L460.64,1162.59 L461.04,1162.61 L461.44,1162.62 L461.84,1162.64 L462.24,1162.66 L462.63,1162.67 L463.03,1162.69 L463.43,1162.7 L463.83,1162.72 L464.23,1162.73 L464.63,1162.75 L465.03,1162.76 L465.42,1162.78 L465.82,1162.79 L466.22,1162.81 L466.62,1162.82 L467.02,1162.84 L467.42,1162.85 L467.82,1162.86 L468.21,1162.88 L468.61,1162.89 L469.01,1162.9 L469.41,1162.92 L469.81,1162.93 L470.21,1162.94 L470.61,1162.95 L471,1162.97 L471.4,1162.98 L471.8,1162.99 L472.2,1163 L472.6,1163.02 L473,1163.03 L473.4,1163.04 L473.8,1163.05 L474.19,1163.06 L474.59,1163.07 L474.99,1163.08 L475.39,1163.1 L475.79,1163.11 L476.19,1163.12 L476.59,1163.13 L476.98,1163.14 L477.38,1163.15 L477.78,1163.16 L478.18,1163.17 L478.58,1163.18 L478.98,1163.19 L479.38,1163.2 L479.77,1163.21 L480.17,1163.22 L480.57,1163.23 L480.97,1163.24 L481.37,1163.25 L481.77,1163.26 L482.17,1163.26 L482.57,1163.27 L482.96,1163.28 L483.36,1163.29 L483.76,1163.3 L484.16,1163.31 L484.56,1163.32 L484.96,1163.32 L485.36,1163.33 L485.75,1163.34 L486.15,1163.35 L486.55,1163.36 L486.95,1163.37" stroke="#f00" stroke-width="3.9" fill="none" stroke-linejoin="round" clip-path="url(#cA)"/>
<line x1="311.35" y1="1172.6" x2="311.35" y2="950.2" stroke="#000" stroke-width="1.9" stroke-dasharray="4.8 2.7" stroke-dashoffset="5.5"/>
<line x1="342.85" y1="1172.6" x2="342.85" y2="950.2" stroke="#000" stroke-width="1.9" stroke-dasharray="4.8 2.7" stroke-dashoffset="5.5"/>
<rect x="168.05" y="950.2" width="318.9" height="222.4" stroke="#000" stroke-width="2" fill="none"/>
<path d="M327.5,1172.6 v-3.3 M327.5,950.2 v3.3" stroke="#000" stroke-width="2" fill="none"/>
<path d="M168.05,1164.05 h3.3 M486.95,1164.05 h-3.3" stroke="#000" stroke-width="2" fill="none"/>
<g transform="translate(154.65,1176.95) scale(1,1.04)"><text x="-19.47" y="0" font-size="35" xml:space="preserve">0</text></g>
<path d="M168.05,1078.51 h3.3 M486.95,1078.51 h-3.3" stroke="#000" stroke-width="2" fill="none"/>
<g transform="translate(154.65,1091.41) scale(1,1.04)"><text x="-19.47" y="0" font-size="35" xml:space="preserve">2</text></g>
<path d="M168.05,992.97 h3.3 M486.95,992.97 h-3.3" stroke="#000" stroke-width="2" fill="none"/>
<g transform="translate(154.65,1005.87) scale(1,1.04)"><text x="-19.47" y="0" font-size="35" xml:space="preserve">4</text></g>
<g transform="translate(162.22,1217.1) scale(1,1.04)"><text x="-25.29" y="0" font-size="35" xml:space="preserve">-</text><path transform="translate(-13.64,0) scale(35)" d="M0.359,0 V-0.703 H0.285 Q0.24,-0.61 0.095,-0.535 V-0.455 Q0.2,-0.5 0.27,-0.555 V0 Z"/><text x="5.83" y="0" font-size="35" xml:space="preserve">0</text></g>
<g transform="translate(327.5,1217.1) scale(1,1.04)"><text x="-9.73" y="0" font-size="35" xml:space="preserve">0</text></g>
<g transform="translate(486.95,1217.1) scale(1,1.04)"><path transform="translate(-19.47,0) scale(35)" d="M0.359,0 V-0.703 H0.285 Q0.24,-0.61 0.095,-0.535 V-0.455 Q0.2,-0.5 0.27,-0.555 V0 Z"/><text x="0" y="0" font-size="35" xml:space="preserve">0</text></g>
<g transform="translate(326.7,1269.2) scale(1,1.0)"><text x="-18.47" y="0" font-size="35" xml:space="preserve">z/t</text></g>
<g transform="translate(108.05,1061.4) rotate(-90) scale(1,1.04)"><text x="-68.06" y="0" font-size="35" xml:space="preserve">Hy (arb.)</text></g>
<g transform="translate(170.45,992.5) scale(1,1.0)"><text x="0" y="0" font-size="35" xml:space="preserve">m</text></g>
<g transform="translate(199.85,973.9) scale(1,1.0)"><text x="0" y="0" font-size="25" xml:space="preserve">o</text></g>
<g transform="translate(214.25,992.5) scale(1,1.04)"><text x="0" y="0" font-size="35" xml:space="preserve">=4.87</text></g>
<g transform="translate(477.95,983.4) scale(1,1.044)"><text x="-23.34" y="0" font-size="35" xml:space="preserve">A</text></g>
<clipPath id="cB"><rect x="640.95" y="950.35" width="318.9" height="222.45"/></clipPath>
<path d="M640.95,989.48 L641.35,989.51 L641.75,989.54 L642.15,989.56 L642.54,989.59 L642.94,989.62 L643.34,989.64 L643.74,989.67 L644.14,989.7 L644.54,989.73 L644.94,989.76 L645.33,989.79 L645.73,989.82 L646.13,989.85 L646.53,989.88 L646.93,989.91 L647.33,989.94 L647.73,989.97 L648.13,990 L648.52,990.04 L648.92,990.07 L649.32,990.1 L649.72,990.14 L650.12,990.17 L650.52,990.2 L650.92,990.24 L651.31,990.28 L651.71,990.31 L652.11,990.35 L652.51,990.38 L652.91,990.42 L653.31,990.46 L653.71,990.5 L654.1,990.54 L654.5,990.57 L654.9,990.61 L655.3,990.65 L655.7,990.7 L656.1,990.74 L656.5,990.78 L656.9,990.82 L657.29,990.86 L657.69,990.91 L658.09,990.95 L658.49,990.99 L658.89,991.04 L659.29,991.08 L659.69,991.13 L660.08,991.18 L660.48,991.22 L660.88,991.27 L661.28,991.32 L661.68,991.37 L662.08,991.42 L662.48,991.47 L662.87,991.52 L663.27,991.57 L663.67,991.62 L664.07,991.68 L664.47,991.73 L664.87,991.78 L665.27,991.84 L665.66,991.89 L666.06,991.95 L666.46,992.01 L666.86,992.07 L667.26,992.12 L667.66,992.18 L668.06,992.24 L668.46,992.3 L668.85,992.37 L669.25,992.43 L669.65,992.49 L670.05,992.55 L670.45,992.62 L670.85,992.68 L671.25,992.75 L671.64,992.82 L672.04,992.88 L672.44,992.95 L672.84,993.02 L673.24,993.09 L673.64,993.16 L674.04,993.24 L674.43,993.31 L674.83,993.38 L675.23,993.46 L675.63,993.53 L676.03,993.61 L676.43,993.69 L676.83,993.77 L677.22,993.85 L677.62,993.93 L678.02,994.01 L678.42,994.09 L678.82,994.18 L679.22,994.26 L679.62,994.35 L680.02,994.44 L680.41,994.52 L680.81,994.61 L681.21,994.7 L681.61,994.79 L682.01,994.89 L682.41,994.98 L682.81,995.08 L683.2,995.17 L683.6,995.27 L684,995.37 L684.4,995.47 L684.8,995.57 L685.2,995.67 L685.6,995.78 L685.99,995.88 L686.39,995.99 L686.79,996.1 L687.19,996.2 L687.59,996.31 L687.99,996.43 L688.39,996.54 L688.79,996.65 L689.18,996.77 L689.58,996.89 L689.98,997.01 L690.38,997.13 L690.78,997.25 L691.18,997.37 L691.58,997.5 L691.97,997.62 L692.37,997.75 L692.77,997.88 L693.17,998.01 L693.57,998.15 L693.97,998.28 L694.37,998.42 L694.76,998.56 L695.16,998.7 L695.56,998.84 L695.96,998.98 L696.36,999.13 L696.76,999.28 L697.16,999.42 L697.55,999.58 L697.95,999.73 L698.35,999.88 L698.75,1000.04 L699.15,1000.2 L699.55,1000.36 L699.95,1000.52 L700.35,1000.69 L700.74,1000.85 L701.14,1001.02 L701.54,1001.19 L701.94,1001.37 L702.34,1001.54 L702.74,1001.72 L703.14,1001.9 L703.53,1002.08 L703.93,1002.27 L704.33,1002.45 L704.73,1002.64 L705.13,1002.83 L705.53,1003.03 L705.93,1003.22 L706.32,1003.42 L706.72,1003.62 L707.12,1003.83 L707.52,1004.03 L707.92,1004.24 L708.32,1004.45 L708.72,1004.67 L709.11,1004.88 L709.51,1005.1 L709.91,1005.33 L710.31,1005.55 L710.71,1005.78 L711.11,1006.01 L711.51,1006.24 L711.91,1006.48 L712.3,1006.72 L712.7,1006.96 L713.1,1007.21 L713.5,1007.46 L713.9,1007.71 L714.3,1007.97 L714.7,1008.22 L715.09,1008.49 L715.49,1008.75 L715.89,1009.02 L716.29,1009.29 L716.69,1009.56 L717.09,1009.84 L717.49,1010.13 L717.88,1010.41 L718.28,1010.7 L718.68,1010.99 L719.08,1011.29 L719.48,1011.59 L719.88,1011.89 L720.28,1012.2 L720.68,1012.51 L721.07,1012.83 L721.47,1013.15 L721.87,1013.47 L722.27,1013.8 L722.67,1014.13 L723.07,1014.47 L723.47,1014.81 L723.86,1015.15 L724.26,1015.5 L724.66,1015.85 L725.06,1016.21 L725.46,1016.57 L725.86,1016.94 L726.26,1017.31 L726.65,1017.69 L727.05,1018.07 L727.45,1018.45 L727.85,1018.84 L728.25,1019.24 L728.65,1019.64 L729.05,1020.04 L729.44,1020.45 L729.84,1020.87 L730.24,1021.29 L730.64,1021.72 L731.04,1022.15 L731.44,1022.58 L731.84,1023.03 L732.24,1023.47 L732.63,1023.93 L733.03,1024.39 L733.43,1024.85 L733.83,1025.32 L734.23,1025.8 L734.63,1026.28 L735.03,1026.77 L735.42,1027.27 L735.82,1027.77 L736.22,1028.27 L736.62,1028.79 L737.02,1029.31 L737.42,1029.83 L737.82,1030.37 L738.21,1030.91 L738.61,1031.46 L739.01,1032.01 L739.41,1032.57 L739.81,1033.14 L740.21,1033.71 L740.61,1034.3 L741,1034.88 L741.4,1035.48 L741.8,1036.09 L742.2,1036.7 L742.6,1037.32 L743,1037.95 L743.4,1038.58 L743.8,1039.22 L744.19,1039.88 L744.59,1040.54 L744.99,1041.2 L745.39,1041.88 L745.79,1042.57 L746.19,1043.26 L746.59,1043.96 L746.98,1044.67 L747.38,1045.39 L747.78,1046.12 L748.18,1046.86 L748.58,1047.61 L748.98,1048.36 L749.38,1049.13 L749.77,1049.91 L750.17,1050.69 L750.57,1051.49 L750.97,1052.29 L751.37,1053.11 L751.77,1053.94 L752.17,1054.77 L752.57,1055.62 L752.96,1056.48 L753.36,1057.35 L753.76,1058.23 L754.16,1059.12 L754.56,1060.02 L754.96,1060.93 L755.36,1061.86 L755.75,1062.79 L756.15,1063.74 L756.55,1064.7 L756.95,1065.67 L757.35,1066.66 L757.75,1067.65 L758.15,1068.66 L758.54,1069.68 L758.94,1070.72 L759.34,1071.77 L759.74,1072.83 L760.14,1073.9 L760.54,1074.99 L760.94,1076.09 L761.33,1077.21 L761.73,1078.34 L762.13,1079.48 L762.53,1080.64 L762.93,1081.81 L763.33,1083 L763.73,1084.2 L764.13,1085.42 L764.52,1086.65 L764.92,1087.9 L765.32,1089.16 L765.72,1090.44 L766.12,1091.74 L766.52,1093.05 L766.92,1094.38 L767.31,1095.72 L767.71,1097.08 L768.11,1098.46 L768.51,1099.86 L768.91,1101.27 L769.31,1102.71 L769.71,1104.16 L770.1,1105.63 L770.5,1107.11 L770.9,1108.62 L771.3,1110.14 L771.7,1111.69 L772.1,1113.25 L772.5,1114.83 L772.89,1116.43 L773.29,1118.06 L773.69,1119.7 L774.09,1121.36 L774.49,1123.05 L774.89,1124.75 L775.29,1126.48 L775.69,1128.23 L776.08,1130 L776.48,1131.8 L776.88,1133.61 L777.28,1135.45 L777.68,1137.31 L778.08,1139.2 L778.48,1141.11 L778.87,1143.04 L779.27,1145 L779.67,1146.98 L780.07,1148.99 L780.47,1151.02 L780.87,1153.08 L781.27,1155.16 L781.66,1157.27 L782.06,1159.41 L782.46,1161.57 L782.86,1163.76 L783.26,1165.98 L783.66,1168.22 L784.06,1170.5 L784.46,1172.8 L784.85,1161.54 L785.25,1150.95 L785.65,1141.01 L786.05,1131.66 L786.45,1122.88 L786.85,1114.63 L787.25,1106.88 L787.64,1099.59 L788.04,1092.74 L788.44,1086.3 L788.84,1080.25 L789.24,1074.57 L789.64,1069.22 L790.04,1064.19 L790.43,1059.46 L790.83,1055.01 L791.23,1050.83 L791.63,1046.9 L792.03,1043.19 L792.43,1039.71 L792.83,1036.43 L793.22,1033.34 L793.62,1030.43 L794.02,1027.69 L794.42,1025.1 L794.82,1022.67 L795.22,1020.37 L795.62,1018.2 L796.02,1016.15 L796.41,1014.21 L796.81,1012.38 L797.21,1010.64 L797.61,1008.99 L798.01,1007.43 L798.41,1005.95 L798.81,1004.54 L799.2,1003.2 L799.6,1001.92 L800,1000.69 L800.4,999.52 L800.8,998.39 L801.2,997.31 L801.6,996.26 L801.99,995.25 L802.39,994.27 L802.79,993.32 L803.19,992.39 L803.59,991.48 L803.99,990.59 L804.39,989.7 L804.78,988.83 L805.18,987.96 L805.58,987.1 L805.98,986.23 L806.38,985.36 L806.78,984.48 L807.18,983.59 L807.58,982.68 L807.97,981.76 L808.37,980.81 L808.77,979.84 L809.17,978.84 L809.57,977.8 L809.97,976.73 L810.37,975.61 L810.76,974.45 L811.16,973.24 L811.56,971.97 L811.96,970.64 L812.36,969.25 L812.76,967.78 L813.16,966.24 L813.55,964.62 L813.95,962.9 L814.35,961.09 L814.75,959.18 L815.15,957.16 L815.55,955.02 L815.95,952.75 L816.35,950.35 L816.74,950.81 L817.14,951.27 L817.54,951.71 L817.94,952.16 L818.34,952.6 L818.74,953.03 L819.14,953.46 L819.53,953.88 L819.93,954.29 L820.33,954.71 L820.73,955.11 L821.13,955.51 L821.53,955.91 L821.93,956.3 L822.32,956.69 L822.72,957.07 L823.12,957.45 L823.52,957.82 L823.92,958.19 L824.32,958.55 L824.72,958.91 L825.11,959.26 L825.51,959.61 L825.91,959.96 L826.31,960.3 L826.71,960.64 L827.11,960.97 L827.51,961.3 L827.91,961.62 L828.3,961.94 L828.7,962.26 L829.1,962.57 L829.5,962.88 L829.9,963.19 L830.3,963.49 L830.7,963.78 L831.09,964.08 L831.49,964.37 L831.89,964.66 L832.29,964.94 L832.69,965.22 L833.09,965.49 L833.49,965.77 L833.88,966.03 L834.28,966.3 L834.68,966.56 L835.08,966.82 L835.48,967.08 L835.88,967.33 L836.28,967.58 L836.67,967.83 L837.07,968.07 L837.47,968.31 L837.87,968.55 L838.27,968.78 L838.67,969.01 L839.07,969.24 L839.47,969.47 L839.86,969.69 L840.26,969.91 L840.66,970.13 L841.06,970.34 L841.46,970.56 L841.86,970.77 L842.26,970.97 L842.65,971.18 L843.05,971.38 L843.45,971.58 L843.85,971.78 L844.25,971.97 L844.65,972.16 L845.05,972.35 L845.44,972.54 L845.84,972.72 L846.24,972.91 L846.64,973.09 L847.04,973.26 L847.44,973.44 L847.84,973.61 L848.24,973.79 L848.63,973.96 L849.03,974.12 L849.43,974.29 L849.83,974.45 L850.23,974.61 L850.63,974.77 L851.03,974.93 L851.42,975.08 L851.82,975.24 L852.22,975.39 L852.62,975.54 L853.02,975.69 L853.42,975.83 L853.82,975.98 L854.21,976.12 L854.61,976.26 L855.01,976.4 L855.41,976.53 L855.81,976.67 L856.21,976.8 L856.61,976.93 L857,977.07 L857.4,977.19 L857.8,977.32 L858.2,977.45 L858.6,977.57 L859,977.69 L859.4,977.81 L859.8,977.93 L860.19,978.05 L860.59,978.17 L860.99,978.28 L861.39,978.4 L861.79,978.51 L862.19,978.62 L862.59,978.73 L862.98,978.84 L863.38,978.94 L863.78,979.05 L864.18,979.15 L864.58,979.26 L864.98,979.36 L865.38,979.46 L865.77,979.56 L866.17,979.65 L866.57,979.75 L866.97,979.85 L867.37,979.94 L867.77,980.03 L868.17,980.12 L868.56,980.22 L868.96,980.3 L869.36,980.39 L869.76,980.48 L870.16,980.57 L870.56,980.65 L870.96,980.74 L871.36,980.82 L871.75,980.9 L872.15,980.98 L872.55,981.06 L872.95,981.14 L873.35,981.22 L873.75,981.3 L874.15,981.37 L874.54,981.45 L874.94,981.52 L875.34,981.6 L875.74,981.67 L876.14,981.74 L876.54,981.81 L876.94,981.88 L877.33,981.95 L877.73,982.02 L878.13,982.08 L878.53,982.15 L878.93,982.22 L879.33,982.28 L879.73,982.34 L880.12,982.41 L880.52,982.47 L880.92,982.53 L881.32,982.59 L881.72,982.65 L882.12,982.71 L882.52,982.77 L882.92,982.83 L883.31,982.88 L883.71,982.94 L884.11,983 L884.51,983.05 L884.91,983.11 L885.31,983.16 L885.71,983.21 L886.1,983.27 L886.5,983.32 L886.9,983.37 L887.3,983.42 L887.7,983.47 L888.1,983.52 L888.5,983.57 L888.89,983.61 L889.29,983.66 L889.69,983.71 L890.09,983.75 L890.49,983.8 L890.89,983.84 L891.29,983.89 L891.69,983.93 L892.08,983.98 L892.48,984.02 L892.88,984.06 L893.28,984.1 L893.68,984.14 L894.08,984.19 L894.48,984.23 L894.87,984.27 L895.27,984.3 L895.67,984.34 L896.07,984.38 L896.47,984.42 L896.87,984.46 L897.27,984.49 L897.66,984.53 L898.06,984.57 L898.46,984.6 L898.86,984.64 L899.26,984.67 L899.66,984.71 L900.06,984.74 L900.45,984.77 L900.85,984.81 L901.25,984.84 L901.65,984.87 L902.05,984.9 L902.45,984.93 L902.85,984.96 L903.25,984.99 L903.64,985.03 L904.04,985.05 L904.44,985.08 L904.84,985.11 L905.24,985.14 L905.64,985.17 L906.04,985.2 L906.43,985.23 L906.83,985.25 L907.23,985.28 L907.63,985.31 L908.03,985.33 L908.43,985.36 L908.83,985.39 L909.22,985.41 L909.62,985.44 L910.02,985.46 L910.42,985.48 L910.82,985.51 L911.22,985.53 L911.62,985.56 L912.02,985.58 L912.41,985.6 L912.81,985.62 L913.21,985.65 L913.61,985.67 L914.01,985.69 L914.41,985.71 L914.81,985.73 L915.2,985.75 L915.6,985.78 L916,985.8 L916.4,985.82 L916.8,985.84 L917.2,985.86 L917.6,985.88 L917.99,985.89 L918.39,985.91 L918.79,985.93 L919.19,985.95 L919.59,985.97 L919.99,985.99 L920.39,986.01 L920.78,986.02 L921.18,986.04 L921.58,986.06 L921.98,986.07 L922.38,986.09 L922.78,986.11 L923.18,986.12 L923.58,986.14 L923.97,986.16 L924.37,986.17 L924.77,986.19 L925.17,986.2 L925.57,986.22 L925.97,986.23 L926.37,986.25 L926.76,986.26 L927.16,986.28 L927.56,986.29 L927.96,986.31 L928.36,986.32 L928.76,986.33 L929.16,986.35 L929.55,986.36 L929.95,986.37 L930.35,986.39 L930.75,986.4 L931.15,986.41 L931.55,986.42 L931.95,986.44 L932.34,986.45 L932.74,986.46 L933.14,986.47 L933.54,986.49 L933.94,986.5 L934.34,986.51 L934.74,986.52 L935.14,986.53 L935.53,986.54 L935.93,986.55 L936.33,986.56 L936.73,986.57 L937.13,986.59 L937.53,986.6 L937.93,986.61 L938.32,986.62 L938.72,986.63 L939.12,986.64 L939.52,986.65 L939.92,986.66 L940.32,986.67 L940.72,986.67 L941.11,986.68 L941.51,986.69 L941.91,986.7 L942.31,986.71 L942.71,986.72 L943.11,986.73 L943.51,986.74 L943.9,986.75 L944.3,986.75 L944.7,986.76 L945.1,986.77 L945.5,986.78 L945.9,986.79 L946.3,986.8 L946.7,986.8 L947.09,986.81 L947.49,986.82 L947.89,986.83 L948.29,986.83 L948.69,986.84 L949.09,986.85 L949.49,986.85 L949.88,986.86 L950.28,986.87 L950.68,986.88 L951.08,986.88 L951.48,986.89 L951.88,986.9 L952.28,986.9 L952.67,986.91 L953.07,986.92 L953.47,986.92 L953.87,986.93 L954.27,986.93 L954.67,986.94 L955.07,986.95 L955.47,986.95 L955.86,986.96 L956.26,986.96 L956.66,986.97 L957.06,986.98 L957.46,986.98 L957.86,986.99 L958.26,986.99 L958.65,987 L959.05,987 L959.45,987.01 L959.85,987.01" stroke="#00f" stroke-width="3.9" fill="none" stroke-linejoin="round" clip-path="url(#cB)"/>
<line x1="784.25" y1="1172.8" x2="784.25" y2="950.35" stroke="#000" stroke-width="1.9" stroke-dasharray="4.8 2.7" stroke-dashoffset="5.5"/>
<line x1="815.75" y1="1172.8" x2="815.75" y2="950.35" stroke="#000" stroke-width="1.9" stroke-dasharray="4.8 2.7" stroke-dashoffset="5.5"/>
<rect x="640.95" y="950.35" width="318.9" height="222.45" stroke="#000" stroke-width="2" fill="none"/>
<path d="M800.4,1172.8 v-3.3 M800.4,950.35 v3.3" stroke="#000" stroke-width="2" fill="none"/>
<path d="M640.95,987.42 h3.3 M959.85,987.42 h-3.3" stroke="#000" stroke-width="2" fill="none"/>
<g transform="translate(627.55,1000.32) scale(1,1.04)"><text x="-19.47" y="0" font-size="35" xml:space="preserve">0</text></g>
<path d="M640.95,1061.58 h3.3 M959.85,1061.58 h-3.3" stroke="#000" stroke-width="2" fill="none"/>
<g transform="translate(627.55,1074.48) scale(1,1.04)"><text x="-31.12" y="0" font-size="35" xml:space="preserve">-2</text></g>
<path d="M640.95,1135.72 h3.3 M959.85,1135.72 h-3.3" stroke="#000" stroke-width="2" fill="none"/>
<g transform="translate(627.55,1148.62) scale(1,1.04)"><text x="-31.12" y="0" font-size="35" xml:space="preserve">-4</text></g>
<g transform="translate(635.12,1217.3) scale(1,1.04)"><text x="-25.29" y="0" font-size="35" xml:space="preserve">-</text><path transform="translate(-13.64,0) scale(35)" d="M0.359,0 V-0.703 H0.285 Q0.24,-0.61 0.095,-0.535 V-0.455 Q0.2,-0.5 0.27,-0.555 V0 Z"/><text x="5.83" y="0" font-size="35" xml:space="preserve">0</text></g>
<g transform="translate(800.4,1217.3) scale(1,1.04)"><text x="-9.73" y="0" font-size="35" xml:space="preserve">0</text></g>
<g transform="translate(959.85,1217.3) scale(1,1.04)"><path transform="translate(-19.47,0) scale(35)" d="M0.359,0 V-0.703 H0.285 Q0.24,-0.61 0.095,-0.535 V-0.455 Q0.2,-0.5 0.27,-0.555 V0 Z"/><text x="0" y="0" font-size="35" xml:space="preserve">0</text></g>
<g transform="translate(799.6,1269.4) scale(1,1.0)"><text x="-18.47" y="0" font-size="35" xml:space="preserve">z/t</text></g>
<g transform="translate(569.5,1061.58) rotate(-90) scale(1,1.04)"><text x="-68.06" y="0" font-size="35" xml:space="preserve">Hy (arb.)</text></g>
<g transform="translate(643.35,992.65) scale(1,1.0)"><text x="0" y="0" font-size="35" xml:space="preserve">m</text></g>
<g transform="translate(672.75,974.05) scale(1,1.0)"><text x="0" y="0" font-size="25" xml:space="preserve">e</text></g>
<g transform="translate(687.15,992.65) scale(1,1.04)"><text x="0" y="0" font-size="35" xml:space="preserve">=-5.00</text></g>
<g transform="translate(950.85,983.55) scale(1,1.044)"><text x="-23.34" y="0" font-size="35" xml:space="preserve">B</text></g>
<clipPath id="cC"><rect x="168.05" y="1331.7" width="318.9" height="222.25"/></clipPath>
<path d="M168.05,1517.32 L168.45,1517.33 L168.85,1517.33 L169.25,1517.34 L169.64,1517.34 L170.04,1517.35 L170.44,1517.35 L170.84,1517.36 L171.24,1517.36 L171.64,1517.37 L172.04,1517.37 L172.43,1517.38 L172.83,1517.39 L173.23,1517.39 L173.63,1517.4 L174.03,1517.4 L174.43,1517.41 L174.83,1517.42 L175.23,1517.42 L175.62,1517.43 L176.02,1517.44 L176.42,1517.44 L176.82,1517.45 L177.22,1517.46 L177.62,1517.46 L178.02,1517.47 L178.41,1517.48 L178.81,1517.49 L179.21,1517.49 L179.61,1517.5 L180.01,1517.51 L180.41,1517.51 L180.81,1517.52 L181.2,1517.53 L181.6,1517.54 L182,1517.55 L182.4,1517.55 L182.8,1517.56 L183.2,1517.57 L183.6,1517.58 L184,1517.59 L184.39,1517.6 L184.79,1517.6 L185.19,1517.61 L185.59,1517.62 L185.99,1517.63 L186.39,1517.64 L186.79,1517.65 L187.18,1517.66 L187.58,1517.67 L187.98,1517.68 L188.38,1517.69 L188.78,1517.7 L189.18,1517.71 L189.58,1517.72 L189.97,1517.73 L190.37,1517.74 L190.77,1517.75 L191.17,1517.76 L191.57,1517.77 L191.97,1517.78 L192.37,1517.79 L192.76,1517.8 L193.16,1517.81 L193.56,1517.82 L193.96,1517.84 L194.36,1517.85 L194.76,1517.86 L195.16,1517.87 L195.56,1517.88 L195.95,1517.9 L196.35,1517.91 L196.75,1517.92 L197.15,1517.93 L197.55,1517.95 L197.95,1517.96 L198.35,1517.97 L198.74,1517.99 L199.14,1518 L199.54,1518.01 L199.94,1518.03 L200.34,1518.04 L200.74,1518.06 L201.14,1518.07 L201.53,1518.08 L201.93,1518.1 L202.33,1518.11 L202.73,1518.13 L203.13,1518.14 L203.53,1518.16 L203.93,1518.18 L204.32,1518.19 L204.72,1518.21 L205.12,1518.22 L205.52,1518.24 L205.92,1518.26 L206.32,1518.27 L206.72,1518.29 L207.12,1518.31 L207.51,1518.33 L207.91,1518.34 L208.31,1518.36 L208.71,1518.38 L209.11,1518.4 L209.51,1518.42 L209.91,1518.44 L210.3,1518.46 L210.7,1518.48 L211.1,1518.5 L211.5,1518.52 L211.9,1518.54 L212.3,1518.56 L212.7,1518.58 L213.09,1518.6 L213.49,1518.62 L213.89,1518.64 L214.29,1518.66 L214.69,1518.68 L215.09,1518.71 L215.49,1518.73 L215.88,1518.75 L216.28,1518.78 L216.68,1518.8 L217.08,1518.82 L217.48,1518.85 L217.88,1518.87 L218.28,1518.9 L218.68,1518.92 L219.07,1518.95 L219.47,1518.97 L219.87,1519 L220.27,1519.02 L220.67,1519.05 L221.07,1519.08 L221.47,1519.11 L221.86,1519.13 L222.26,1519.16 L222.66,1519.19 L223.06,1519.22 L223.46,1519.25 L223.86,1519.28 L224.26,1519.31 L224.65,1519.34 L225.05,1519.37 L225.45,1519.4 L225.85,1519.43 L226.25,1519.46 L226.65,1519.49 L227.05,1519.53 L227.45,1519.56 L227.84,1519.59 L228.24,1519.63 L228.64,1519.66 L229.04,1519.69 L229.44,1519.73 L229.84,1519.76 L230.24,1519.8 L230.63,1519.84 L231.03,1519.87 L231.43,1519.91 L231.83,1519.95 L232.23,1519.99 L232.63,1520.03 L233.03,1520.07 L233.42,1520.1 L233.82,1520.14 L234.22,1520.19 L234.62,1520.23 L235.02,1520.27 L235.42,1520.31 L235.82,1520.35 L236.21,1520.4 L236.61,1520.44 L237.01,1520.49 L237.41,1520.53 L237.81,1520.58 L238.21,1520.62 L238.61,1520.67 L239.01,1520.72 L239.4,1520.76 L239.8,1520.81 L240.2,1520.86 L240.6,1520.91 L241,1520.96 L241.4,1521.01 L241.8,1521.06 L242.19,1521.12 L242.59,1521.17 L242.99,1521.22 L243.39,1521.28 L243.79,1521.33 L244.19,1521.39 L244.59,1521.44 L244.98,1521.5 L245.38,1521.56 L245.78,1521.62 L246.18,1521.68 L246.58,1521.74 L246.98,1521.8 L247.38,1521.86 L247.78,1521.92 L248.17,1521.98 L248.57,1522.05 L248.97,1522.11 L249.37,1522.18 L249.77,1522.24 L250.17,1522.31 L250.57,1522.38 L250.96,1522.45 L251.36,1522.52 L251.76,1522.59 L252.16,1522.66 L252.56,1522.73 L252.96,1522.81 L253.36,1522.88 L253.75,1522.96 L254.15,1523.03 L254.55,1523.11 L254.95,1523.19 L255.35,1523.27 L255.75,1523.35 L256.15,1523.43 L256.54,1523.51 L256.94,1523.59 L257.34,1523.68 L257.74,1523.76 L258.14,1523.85 L258.54,1523.93 L258.94,1524.02 L259.34,1524.11 L259.73,1524.2 L260.13,1524.29 L260.53,1524.39 L260.93,1524.48 L261.33,1524.58 L261.73,1524.67 L262.13,1524.77 L262.52,1524.87 L262.92,1524.97 L263.32,1525.07 L263.72,1525.17 L264.12,1525.28 L264.52,1525.38 L264.92,1525.49 L265.31,1525.6 L265.71,1525.71 L266.11,1525.82 L266.51,1525.93 L266.91,1526.04 L267.31,1526.16 L267.71,1526.27 L268.1,1526.39 L268.5,1526.51 L268.9,1526.63 L269.3,1526.75 L269.7,1526.88 L270.1,1527 L270.5,1527.13 L270.9,1527.26 L271.29,1527.39 L271.69,1527.52 L272.09,1527.65 L272.49,1527.79 L272.89,1527.93 L273.29,1528.07 L273.69,1528.21 L274.08,1528.35 L274.48,1528.49 L274.88,1528.64 L275.28,1528.78 L275.68,1528.93 L276.08,1529.09 L276.48,1529.24 L276.87,1529.39 L277.27,1529.55 L277.67,1529.71 L278.07,1529.87 L278.47,1530.03 L278.87,1530.2 L279.27,1530.37 L279.66,1530.54 L280.06,1530.71 L280.46,1530.88 L280.86,1531.06 L281.26,1531.23 L281.66,1531.41 L282.06,1531.6 L282.46,1531.78 L282.85,1531.97 L283.25,1532.16 L283.65,1532.35 L284.05,1532.54 L284.45,1532.74 L284.85,1532.94 L285.25,1533.14 L285.64,1533.35 L286.04,1533.55 L286.44,1533.76 L286.84,1533.97 L287.24,1534.19 L287.64,1534.41 L288.04,1534.63 L288.43,1534.85 L288.83,1535.07 L289.23,1535.3 L289.63,1535.53 L290.03,1535.77 L290.43,1536.01 L290.83,1536.25 L291.23,1536.49 L291.62,1536.74 L292.02,1536.98 L292.42,1537.24 L292.82,1537.49 L293.22,1537.75 L293.62,1538.01 L294.02,1538.28 L294.41,1538.55 L294.81,1538.82 L295.21,1539.1 L295.61,1539.38 L296.01,1539.66 L296.41,1539.94 L296.81,1540.23 L297.2,1540.53 L297.6,1540.82 L298,1541.13 L298.4,1541.43 L298.8,1541.74 L299.2,1542.05 L299.6,1542.37 L299.99,1542.69 L300.39,1543.01 L300.79,1543.34 L301.19,1543.67 L301.59,1544.01 L301.99,1544.35 L302.39,1544.69 L302.79,1545.04 L303.18,1545.4 L303.58,1545.76 L303.98,1546.12 L304.38,1546.49 L304.78,1546.86 L305.18,1547.24 L305.58,1547.62 L305.97,1548 L306.37,1548.39 L306.77,1548.79 L307.17,1549.19 L307.57,1549.6 L307.97,1550.01 L308.37,1550.43 L308.76,1550.85 L309.16,1551.27 L309.56,1551.71 L309.96,1552.14 L310.36,1552.59 L310.76,1553.04 L311.16,1553.49 L311.56,1553.95 L311.95,1551.55 L312.35,1549.28 L312.75,1547.15 L313.15,1545.13 L313.55,1543.21 L313.95,1541.41 L314.35,1539.7 L314.74,1538.07 L315.14,1536.53 L315.54,1535.07 L315.94,1533.68 L316.34,1532.35 L316.74,1531.08 L317.14,1529.87 L317.53,1528.71 L317.93,1527.6 L318.33,1526.53 L318.73,1525.49 L319.13,1524.49 L319.53,1523.52 L319.93,1522.57 L320.32,1521.65 L320.72,1520.74 L321.12,1519.85 L321.52,1518.97 L321.92,1518.1 L322.32,1517.24 L322.72,1516.37 L323.12,1515.5 L323.51,1514.63 L323.91,1513.75 L324.31,1512.86 L324.71,1511.95 L325.11,1511.02 L325.51,1510.07 L325.91,1509.09 L326.3,1508.08 L326.7,1507.03 L327.1,1505.95 L327.5,1504.83 L327.9,1503.66 L328.3,1502.43 L328.7,1501.15 L329.09,1499.81 L329.49,1498.4 L329.89,1496.92 L330.29,1495.36 L330.69,1493.71 L331.09,1491.98 L331.49,1490.15 L331.88,1488.21 L332.28,1486.16 L332.68,1484 L333.08,1481.7 L333.48,1479.26 L333.88,1476.68 L334.28,1473.94 L334.68,1471.04 L335.07,1467.95 L335.47,1464.67 L335.87,1461.19 L336.27,1457.49 L336.67,1453.56 L337.07,1449.38 L337.47,1444.94 L337.86,1440.21 L338.26,1435.19 L338.66,1429.85 L339.06,1424.16 L339.46,1418.12 L339.86,1411.69 L340.26,1404.84 L340.65,1397.56 L341.05,1389.81 L341.45,1381.57 L341.85,1372.8 L342.25,1363.46 L342.65,1353.53 L343.05,1342.95 L343.45,1331.7 L343.84,1334 L344.24,1336.27 L344.64,1338.52 L345.04,1340.73 L345.44,1342.92 L345.84,1345.08 L346.24,1347.22 L346.63,1349.32 L347.03,1351.41 L347.43,1353.46 L347.83,1355.49 L348.23,1357.5 L348.63,1359.48 L349.03,1361.43 L349.42,1363.37 L349.82,1365.27 L350.22,1367.16 L350.62,1369.02 L351.02,1370.85 L351.42,1372.67 L351.82,1374.46 L352.21,1376.23 L352.61,1377.98 L353.01,1379.7 L353.41,1381.41 L353.81,1383.09 L354.21,1384.75 L354.61,1386.39 L355.01,1388.02 L355.4,1389.62 L355.8,1391.2 L356.2,1392.76 L356.6,1394.3 L357,1395.82 L357.4,1397.33 L357.8,1398.81 L358.19,1400.28 L358.59,1401.73 L358.99,1403.16 L359.39,1404.57 L359.79,1405.97 L360.19,1407.35 L360.59,1408.71 L360.98,1410.05 L361.38,1411.38 L361.78,1412.69 L362.18,1413.99 L362.58,1415.26 L362.98,1416.53 L363.38,1417.77 L363.77,1419 L364.17,1420.22 L364.57,1421.42 L364.97,1422.61 L365.37,1423.78 L365.77,1424.94 L366.17,1426.08 L366.57,1427.21 L366.96,1428.32 L367.36,1429.42 L367.76,1430.51 L368.16,1431.58 L368.56,1432.64 L368.96,1433.69 L369.36,1434.72 L369.75,1435.74 L370.15,1436.75 L370.55,1437.75 L370.95,1438.73 L371.35,1439.7 L371.75,1440.66 L372.15,1441.61 L372.54,1442.54 L372.94,1443.47 L373.34,1444.38 L373.74,1445.28 L374.14,1446.17 L374.54,1447.05 L374.94,1447.92 L375.34,1448.77 L375.73,1449.62 L376.13,1450.46 L376.53,1451.28 L376.93,1452.1 L377.33,1452.9 L377.73,1453.7 L378.13,1454.48 L378.52,1455.26 L378.92,1456.02 L379.32,1456.78 L379.72,1457.53 L380.12,1458.26 L380.52,1458.99 L380.92,1459.71 L381.31,1460.42 L381.71,1461.12 L382.11,1461.82 L382.51,1462.5 L382.91,1463.18 L383.31,1463.85 L383.71,1464.5 L384.1,1465.16 L384.5,1465.8 L384.9,1466.43 L385.3,1467.06 L385.7,1467.68 L386.1,1468.29 L386.5,1468.89 L386.9,1469.49 L387.29,1470.08 L387.69,1470.66 L388.09,1471.24 L388.49,1471.8 L388.89,1472.36 L389.29,1472.92 L389.69,1473.46 L390.08,1474 L390.48,1474.54 L390.88,1475.06 L391.28,1475.58 L391.68,1476.1 L392.08,1476.6 L392.48,1477.1 L392.87,1477.6 L393.27,1478.09 L393.67,1478.57 L394.07,1479.05 L394.47,1479.52 L394.87,1479.98 L395.27,1480.44 L395.66,1480.89 L396.06,1481.34 L396.46,1481.78 L396.86,1482.22 L397.26,1482.65 L397.66,1483.07 L398.06,1483.49 L398.46,1483.91 L398.85,1484.32 L399.25,1484.72 L399.65,1485.12 L400.05,1485.52 L400.45,1485.91 L400.85,1486.29 L401.25,1486.67 L401.64,1487.05 L402.04,1487.42 L402.44,1487.79 L402.84,1488.15 L403.24,1488.51 L403.64,1488.86 L404.04,1489.21 L404.43,1489.55 L404.83,1489.89 L405.23,1490.23 L405.63,1490.56 L406.03,1490.89 L406.43,1491.21 L406.83,1491.53 L407.23,1491.84 L407.62,1492.15 L408.02,1492.46 L408.42,1492.77 L408.82,1493.07 L409.22,1493.36 L409.62,1493.65 L410.02,1493.94 L410.41,1494.23 L410.81,1494.51 L411.21,1494.79 L411.61,1495.06 L412.01,1495.33 L412.41,1495.6 L412.81,1495.87 L413.2,1496.13 L413.6,1496.39 L414,1496.64 L414.4,1496.89 L414.8,1497.14 L415.2,1497.39 L415.6,1497.63 L415.99,1497.87 L416.39,1498.11 L416.79,1498.34 L417.19,1498.57 L417.59,1498.8 L417.99,1499.02 L418.39,1499.25 L418.79,1499.46 L419.18,1499.68 L419.58,1499.9 L419.98,1500.11 L420.38,1500.32 L420.78,1500.52 L421.18,1500.73 L421.58,1500.93 L421.97,1501.12 L422.37,1501.32 L422.77,1501.51 L423.17,1501.71 L423.57,1501.89 L423.97,1502.08 L424.37,1502.27 L424.76,1502.45 L425.16,1502.63 L425.56,1502.8 L425.96,1502.98 L426.36,1503.15 L426.76,1503.32 L427.16,1503.49 L427.55,1503.66 L427.95,1503.82 L428.35,1503.99 L428.75,1504.15 L429.15,1504.3 L429.55,1504.46 L429.95,1504.62 L430.35,1504.77 L430.74,1504.92 L431.14,1505.07 L431.54,1505.22 L431.94,1505.36 L432.34,1505.5 L432.74,1505.65 L433.14,1505.79 L433.53,1505.92 L433.93,1506.06 L434.33,1506.2 L434.73,1506.33 L435.13,1506.46 L435.53,1506.59 L435.93,1506.72 L436.32,1506.84 L436.72,1506.97 L437.12,1507.09 L437.52,1507.21 L437.92,1507.34 L438.32,1507.45 L438.72,1507.57 L439.12,1507.69 L439.51,1507.8 L439.91,1507.92 L440.31,1508.03 L440.71,1508.14 L441.11,1508.25 L441.51,1508.35 L441.91,1508.46 L442.3,1508.56 L442.7,1508.67 L443.1,1508.77 L443.5,1508.87 L443.9,1508.97 L444.3,1509.07 L444.7,1509.17 L445.09,1509.26 L445.49,1509.36 L445.89,1509.45 L446.29,1509.55 L446.69,1509.64 L447.09,1509.73 L447.49,1509.82 L447.88,1509.9 L448.28,1509.99 L448.68,1510.08 L449.08,1510.16 L449.48,1510.25 L449.88,1510.33 L450.28,1510.41 L450.68,1510.49 L451.07,1510.57 L451.47,1510.65 L451.87,1510.73 L452.27,1510.8 L452.67,1510.88 L453.07,1510.95 L453.47,1511.03 L453.86,1511.1 L454.26,1511.17 L454.66,1511.25 L455.06,1511.32 L455.46,1511.39 L455.86,1511.45 L456.26,1511.52 L456.65,1511.59 L457.05,1511.65 L457.45,1511.72 L457.85,1511.78 L458.25,1511.85 L458.65,1511.91 L459.05,1511.97 L459.44,1512.03 L459.84,1512.09 L460.24,1512.15 L460.64,1512.21 L461.04,1512.27 L461.44,1512.33 L461.84,1512.39 L462.24,1512.44 L462.63,1512.5 L463.03,1512.55 L463.43,1512.61 L463.83,1512.66 L464.23,1512.71 L464.63,1512.77 L465.03,1512.82 L465.42,1512.87 L465.82,1512.92 L466.22,1512.97 L466.62,1513.02 L467.02,1513.06 L467.42,1513.11 L467.82,1513.16 L468.21,1513.21 L468.61,1513.25 L469.01,1513.3 L469.41,1513.34 L469.81,1513.39 L470.21,1513.43 L470.61,1513.47 L471,1513.52 L471.4,1513.56 L471.8,1513.6 L472.2,1513.64 L472.6,1513.68 L473,1513.72 L473.4,1513.76 L473.8,1513.8 L474.19,1513.84 L474.59,1513.88 L474.99,1513.91 L475.39,1513.95 L475.79,1513.99 L476.19,1514.02 L476.59,1514.06 L476.98,1514.1 L477.38,1514.13 L477.78,1514.17 L478.18,1514.2 L478.58,1514.23 L478.98,1514.27 L479.38,1514.3 L479.77,1514.33 L480.17,1514.36 L480.57,1514.4 L480.97,1514.43 L481.37,1514.46 L481.77,1514.49 L482.17,1514.52 L482.57,1514.55 L482.96,1514.58 L483.36,1514.61 L483.76,1514.63 L484.16,1514.66 L484.56,1514.69 L484.96,1514.72 L485.36,1514.75 L485.75,1514.77 L486.15,1514.8 L486.55,1514.82 L486.95,1514.85" stroke="#00f" stroke-width="3.9" fill="none" stroke-linejoin="round" clip-path="url(#cC)"/>
<line x1="311.35" y1="1553.95" x2="311.35" y2="1331.7" stroke="#000" stroke-width="1.9" stroke-dasharray="4.8 2.7" stroke-dashoffset="5.5"/>
<line x1="342.85" y1="1553.95" x2="342.85" y2="1331.7" stroke="#000" stroke-width="1.9" stroke-dasharray="4.8 2.7" stroke-dashoffset="5.5"/>
<rect x="168.05" y="1331.7" width="318.9" height="222.25" stroke="#000" stroke-width="2" fill="none"/>
<path d="M327.5,1553.95 v-3.3 M327.5,1331.7 v3.3" stroke="#000" stroke-width="2" fill="none"/>
<path d="M168.05,1516.91 h3.3 M486.95,1516.91 h-3.3" stroke="#000" stroke-width="2" fill="none"/>
<g transform="translate(154.65,1529.81) scale(1,1.04)"><text x="-19.47" y="0" font-size="35" xml:space="preserve">0</text></g>
<path d="M168.05,1424.3 h3.3 M486.95,1424.3 h-3.3" stroke="#000" stroke-width="2" fill="none"/>
<g transform="translate(154.65,1437.2) scale(1,1.04)"><text x="-48.65" y="0" font-size="35" xml:space="preserve">0.5</text></g>
<g transform="translate(154.65,1344.6) scale(1,1.04)"><path transform="translate(-19.47,0) scale(35)" d="M0.359,0 V-0.703 H0.285 Q0.24,-0.61 0.095,-0.535 V-0.455 Q0.2,-0.5 0.27,-0.555 V0 Z"/></g>
<g transform="translate(162.22,1598.45) scale(1,1.04)"><text x="-25.29" y="0" font-size="35" xml:space="preserve">-</text><path transform="translate(-13.64,0) scale(35)" d="M0.359,0 V-0.703 H0.285 Q0.24,-0.61 0.095,-0.535 V-0.455 Q0.2,-0.5 0.27,-0.555 V0 Z"/><text x="5.83" y="0" font-size="35" xml:space="preserve">0</text></g>
<g transform="translate(327.5,1598.45) scale(1,1.04)"><text x="-9.73" y="0" font-size="35" xml:space="preserve">0</text></g>
<g transform="translate(486.95,1598.45) scale(1,1.04)"><path transform="translate(-19.47,0) scale(35)" d="M0.359,0 V-0.703 H0.285 Q0.24,-0.61 0.095,-0.535 V-0.455 Q0.2,-0.5 0.27,-0.555 V0 Z"/><text x="0" y="0" font-size="35" xml:space="preserve">0</text></g>
<g transform="translate(326.7,1650.55) scale(1,1.0)"><text x="-18.47" y="0" font-size="35" xml:space="preserve">z/t</text></g>
<g transform="translate(79.5,1442.83) rotate(-90) scale(1,1.04)"><text x="-68.06" y="0" font-size="35" xml:space="preserve">Hy (arb.)</text></g>
<g transform="translate(170.45,1374) scale(1,1.0)"><text x="0" y="0" font-size="35" xml:space="preserve">m</text></g>
<g transform="translate(199.85,1355.4) scale(1,1.0)"><text x="0" y="0" font-size="25" xml:space="preserve">e</text></g>
<g transform="translate(214.25,1374) scale(1,1.04)"><text x="0" y="0" font-size="35" xml:space="preserve">=-0.20</text></g>
<g transform="translate(477.95,1364.9) scale(1,1.044)"><text x="-25.28" y="0" font-size="35" xml:space="preserve">C</text></g>
<clipPath id="cD"><rect x="640.95" y="1331.85" width="318.9" height="222.15"/></clipPath>
<path d="M640.95,1516.37 L641.35,1516.36 L641.75,1516.36 L642.15,1516.35 L642.54,1516.34 L642.94,1516.33 L643.34,1516.33 L643.74,1516.32 L644.14,1516.31 L644.54,1516.3 L644.94,1516.3 L645.33,1516.29 L645.73,1516.28 L646.13,1516.27 L646.53,1516.26 L646.93,1516.26 L647.33,1516.25 L647.73,1516.24 L648.13,1516.23 L648.52,1516.22 L648.92,1516.21 L649.32,1516.2 L649.72,1516.2 L650.12,1516.19 L650.52,1516.18 L650.92,1516.17 L651.31,1516.16 L651.71,1516.15 L652.11,1516.14 L652.51,1516.13 L652.91,1516.12 L653.31,1516.11 L653.71,1516.1 L654.1,1516.09 L654.5,1516.08 L654.9,1516.07 L655.3,1516.06 L655.7,1516.05 L656.1,1516.04 L656.5,1516.03 L656.9,1516.02 L657.29,1516.01 L657.69,1515.99 L658.09,1515.98 L658.49,1515.97 L658.89,1515.96 L659.29,1515.95 L659.69,1515.94 L660.08,1515.92 L660.48,1515.91 L660.88,1515.9 L661.28,1515.89 L661.68,1515.87 L662.08,1515.86 L662.48,1515.85 L662.87,1515.84 L663.27,1515.82 L663.67,1515.81 L664.07,1515.8 L664.47,1515.78 L664.87,1515.77 L665.27,1515.75 L665.66,1515.74 L666.06,1515.73 L666.46,1515.71 L666.86,1515.7 L667.26,1515.68 L667.66,1515.67 L668.06,1515.65 L668.46,1515.64 L668.85,1515.62 L669.25,1515.61 L669.65,1515.59 L670.05,1515.57 L670.45,1515.56 L670.85,1515.54 L671.25,1515.52 L671.64,1515.51 L672.04,1515.49 L672.44,1515.47 L672.84,1515.46 L673.24,1515.44 L673.64,1515.42 L674.04,1515.4 L674.43,1515.38 L674.83,1515.37 L675.23,1515.35 L675.63,1515.33 L676.03,1515.31 L676.43,1515.29 L676.83,1515.27 L677.22,1515.25 L677.62,1515.23 L678.02,1515.21 L678.42,1515.19 L678.82,1515.17 L679.22,1515.15 L679.62,1515.13 L680.02,1515.11 L680.41,1515.09 L680.81,1515.06 L681.21,1515.04 L681.61,1515.02 L682.01,1515 L682.41,1514.97 L682.81,1514.95 L683.2,1514.93 L683.6,1514.9 L684,1514.88 L684.4,1514.85 L684.8,1514.83 L685.2,1514.81 L685.6,1514.78 L685.99,1514.76 L686.39,1514.73 L686.79,1514.7 L687.19,1514.68 L687.59,1514.65 L687.99,1514.62 L688.39,1514.6 L688.79,1514.57 L689.18,1514.54 L689.58,1514.51 L689.98,1514.48 L690.38,1514.46 L690.78,1514.43 L691.18,1514.4 L691.58,1514.37 L691.97,1514.34 L692.37,1514.31 L692.77,1514.28 L693.17,1514.24 L693.57,1514.21 L693.97,1514.18 L694.37,1514.15 L694.76,1514.12 L695.16,1514.08 L695.56,1514.05 L695.96,1514.02 L696.36,1513.98 L696.76,1513.95 L697.16,1513.91 L697.55,1513.88 L697.95,1513.84 L698.35,1513.8 L698.75,1513.77 L699.15,1513.73 L699.55,1513.69 L699.95,1513.66 L700.35,1513.62 L700.74,1513.58 L701.14,1513.54 L701.54,1513.5 L701.94,1513.46 L702.34,1513.42 L702.74,1513.38 L703.14,1513.34 L703.53,1513.29 L703.93,1513.25 L704.33,1513.21 L704.73,1513.16 L705.13,1513.12 L705.53,1513.08 L705.93,1513.03 L706.32,1512.98 L706.72,1512.94 L707.12,1512.89 L707.52,1512.84 L707.92,1512.8 L708.32,1512.75 L708.72,1512.7 L709.11,1512.65 L709.51,1512.6 L709.91,1512.55 L710.31,1512.5 L710.71,1512.45 L711.11,1512.39 L711.51,1512.34 L711.91,1512.29 L712.3,1512.23 L712.7,1512.18 L713.1,1512.12 L713.5,1512.07 L713.9,1512.01 L714.3,1511.95 L714.7,1511.89 L715.09,1511.84 L715.49,1511.78 L715.89,1511.72 L716.29,1511.66 L716.69,1511.59 L717.09,1511.53 L717.49,1511.47 L717.88,1511.4 L718.28,1511.34 L718.68,1511.28 L719.08,1511.21 L719.48,1511.14 L719.88,1511.08 L720.28,1511.01 L720.68,1510.94 L721.07,1510.87 L721.47,1510.8 L721.87,1510.73 L722.27,1510.65 L722.67,1510.58 L723.07,1510.51 L723.47,1510.43 L723.86,1510.36 L724.26,1510.28 L724.66,1510.2 L725.06,1510.12 L725.46,1510.04 L725.86,1509.96 L726.26,1509.88 L726.65,1509.8 L727.05,1509.72 L727.45,1509.63 L727.85,1509.55 L728.25,1509.46 L728.65,1509.38 L729.05,1509.29 L729.44,1509.2 L729.84,1509.11 L730.24,1509.02 L730.64,1508.93 L731.04,1508.83 L731.44,1508.74 L731.84,1508.64 L732.24,1508.55 L732.63,1508.45 L733.03,1508.35 L733.43,1508.25 L733.83,1508.15 L734.23,1508.05 L734.63,1507.95 L735.03,1507.84 L735.42,1507.74 L735.82,1507.63 L736.22,1507.52 L736.62,1507.41 L737.02,1507.3 L737.42,1507.19 L737.82,1507.08 L738.21,1506.96 L738.61,1506.85 L739.01,1506.73 L739.41,1506.61 L739.81,1506.49 L740.21,1506.37 L740.61,1506.25 L741,1506.12 L741.4,1506 L741.8,1505.87 L742.2,1505.74 L742.6,1505.61 L743,1505.48 L743.4,1505.35 L743.8,1505.21 L744.19,1505.08 L744.59,1504.94 L744.99,1504.8 L745.39,1504.66 L745.79,1504.52 L746.19,1504.37 L746.59,1504.23 L746.98,1504.08 L747.38,1503.93 L747.78,1503.78 L748.18,1503.63 L748.58,1503.47 L748.98,1503.32 L749.38,1503.16 L749.77,1503 L750.17,1502.84 L750.57,1502.67 L750.97,1502.51 L751.37,1502.34 L751.77,1502.17 L752.17,1502 L752.57,1501.83 L752.96,1501.65 L753.36,1501.47 L753.76,1501.29 L754.16,1501.11 L754.56,1500.93 L754.96,1500.74 L755.36,1500.56 L755.75,1500.37 L756.15,1500.17 L756.55,1499.98 L756.95,1499.78 L757.35,1499.58 L757.75,1499.38 L758.15,1499.18 L758.54,1498.97 L758.94,1498.77 L759.34,1498.55 L759.74,1498.34 L760.14,1498.13 L760.54,1497.91 L760.94,1497.69 L761.33,1497.46 L761.73,1497.24 L762.13,1497.01 L762.53,1496.78 L762.93,1496.55 L763.33,1496.31 L763.73,1496.07 L764.13,1495.83 L764.52,1495.58 L764.92,1495.34 L765.32,1495.09 L765.72,1494.83 L766.12,1494.58 L766.52,1494.32 L766.92,1494.06 L767.31,1493.79 L767.71,1493.52 L768.11,1493.25 L768.51,1492.98 L768.91,1492.7 L769.31,1492.42 L769.71,1492.14 L770.1,1491.85 L770.5,1491.56 L770.9,1491.26 L771.3,1490.97 L771.7,1490.67 L772.1,1490.36 L772.5,1490.05 L772.89,1489.74 L773.29,1489.43 L773.69,1489.11 L774.09,1488.79 L774.49,1488.46 L774.89,1488.13 L775.29,1487.8 L775.69,1487.46 L776.08,1487.12 L776.48,1486.77 L776.88,1486.42 L777.28,1486.07 L777.68,1485.71 L778.08,1485.35 L778.48,1484.98 L778.87,1484.61 L779.27,1484.24 L779.67,1483.86 L780.07,1483.48 L780.47,1483.09 L780.87,1482.7 L781.27,1482.3 L781.66,1481.9 L782.06,1481.5 L782.46,1481.09 L782.86,1480.67 L783.26,1480.25 L783.66,1479.83 L784.06,1479.4 L784.46,1478.96 L784.85,1481.11 L785.25,1483.12 L785.65,1484.99 L786.05,1486.74 L786.45,1488.37 L786.85,1489.89 L787.25,1491.31 L787.64,1492.62 L788.04,1493.84 L788.44,1494.97 L788.84,1496.01 L789.24,1496.97 L789.64,1497.85 L790.04,1498.66 L790.43,1499.4 L790.83,1500.06 L791.23,1500.66 L791.63,1501.2 L792.03,1501.68 L792.43,1502.09 L792.83,1502.45 L793.22,1502.75 L793.62,1503 L794.02,1503.19 L794.42,1503.33 L794.82,1503.41 L795.22,1503.44 L795.62,1503.42 L796.02,1503.34 L796.41,1503.21 L796.81,1503.03 L797.21,1502.79 L797.61,1502.5 L798.01,1502.15 L798.41,1501.75 L798.81,1501.28 L799.2,1500.75 L799.6,1500.16 L800,1499.51 L800.4,1498.78 L800.8,1497.99 L801.2,1497.12 L801.6,1496.17 L801.99,1495.14 L802.39,1494.02 L802.79,1492.82 L803.19,1491.52 L803.59,1490.12 L803.99,1488.62 L804.39,1487.01 L804.78,1485.28 L805.18,1483.42 L805.58,1481.44 L805.98,1479.31 L806.38,1477.04 L806.78,1474.61 L807.18,1472.02 L807.58,1469.25 L807.97,1466.3 L808.37,1463.14 L808.77,1459.78 L809.17,1456.19 L809.57,1452.37 L809.97,1448.29 L810.37,1443.94 L810.76,1439.31 L811.16,1434.38 L811.56,1429.12 L811.96,1423.52 L812.36,1417.55 L812.76,1411.2 L813.16,1404.43 L813.55,1397.23 L813.95,1389.55 L814.35,1381.38 L814.75,1372.67 L815.15,1363.41 L815.55,1353.54 L815.95,1343.04 L816.35,1331.85 L816.74,1333.97 L817.14,1336.06 L817.54,1338.13 L817.94,1340.17 L818.34,1342.19 L818.74,1344.19 L819.14,1346.17 L819.53,1348.12 L819.93,1350.05 L820.33,1351.96 L820.73,1353.85 L821.13,1355.71 L821.53,1357.56 L821.93,1359.38 L822.32,1361.18 L822.72,1362.96 L823.12,1364.72 L823.52,1366.46 L823.92,1368.19 L824.32,1369.89 L824.72,1371.57 L825.11,1373.23 L825.51,1374.87 L825.91,1376.5 L826.31,1378.11 L826.71,1379.69 L827.11,1381.26 L827.51,1382.82 L827.91,1384.35 L828.3,1385.87 L828.7,1387.36 L829.1,1388.85 L829.5,1390.31 L829.9,1391.76 L830.3,1393.19 L830.7,1394.61 L831.09,1396.01 L831.49,1397.39 L831.89,1398.76 L832.29,1400.11 L832.69,1401.44 L833.09,1402.77 L833.49,1404.07 L833.88,1405.36 L834.28,1406.64 L834.68,1407.9 L835.08,1409.15 L835.48,1410.38 L835.88,1411.6 L836.28,1412.8 L836.67,1414 L837.07,1415.17 L837.47,1416.34 L837.87,1417.49 L838.27,1418.63 L838.67,1419.75 L839.07,1420.86 L839.47,1421.96 L839.86,1423.05 L840.26,1424.12 L840.66,1425.18 L841.06,1426.23 L841.46,1427.27 L841.86,1428.3 L842.26,1429.31 L842.65,1430.31 L843.05,1431.3 L843.45,1432.28 L843.85,1433.25 L844.25,1434.21 L844.65,1435.15 L845.05,1436.09 L845.44,1437.01 L845.84,1437.93 L846.24,1438.83 L846.64,1439.73 L847.04,1440.61 L847.44,1441.48 L847.84,1442.35 L848.24,1443.2 L848.63,1444.04 L849.03,1444.88 L849.43,1445.7 L849.83,1446.52 L850.23,1447.32 L850.63,1448.12 L851.03,1448.91 L851.42,1449.68 L851.82,1450.45 L852.22,1451.21 L852.62,1451.97 L853.02,1452.71 L853.42,1453.44 L853.82,1454.17 L854.21,1454.89 L854.61,1455.6 L855.01,1456.3 L855.41,1456.99 L855.81,1457.68 L856.21,1458.36 L856.61,1459.03 L857,1459.69 L857.4,1460.35 L857.8,1460.99 L858.2,1461.63 L858.6,1462.27 L859,1462.89 L859.4,1463.51 L859.8,1464.12 L860.19,1464.73 L860.59,1465.32 L860.99,1465.91 L861.39,1466.5 L861.79,1467.07 L862.19,1467.65 L862.59,1468.21 L862.98,1468.77 L863.38,1469.32 L863.78,1469.86 L864.18,1470.4 L864.58,1470.93 L864.98,1471.46 L865.38,1471.98 L865.77,1472.5 L866.17,1473 L866.57,1473.51 L866.97,1474 L867.37,1474.5 L867.77,1474.98 L868.17,1475.46 L868.56,1475.94 L868.96,1476.4 L869.36,1476.87 L869.76,1477.33 L870.16,1477.78 L870.56,1478.23 L870.96,1478.67 L871.36,1479.11 L871.75,1479.54 L872.15,1479.97 L872.55,1480.39 L872.95,1480.81 L873.35,1481.23 L873.75,1481.63 L874.15,1482.04 L874.54,1482.44 L874.94,1482.83 L875.34,1483.22 L875.74,1483.61 L876.14,1483.99 L876.54,1484.37 L876.94,1484.74 L877.33,1485.11 L877.73,1485.47 L878.13,1485.83 L878.53,1486.19 L878.93,1486.54 L879.33,1486.89 L879.73,1487.23 L880.12,1487.57 L880.52,1487.91 L880.92,1488.24 L881.32,1488.57 L881.72,1488.9 L882.12,1489.22 L882.52,1489.53 L882.92,1489.85 L883.31,1490.16 L883.71,1490.46 L884.11,1490.77 L884.51,1491.07 L884.91,1491.36 L885.31,1491.66 L885.71,1491.95 L886.1,1492.23 L886.5,1492.52 L886.9,1492.79 L887.3,1493.07 L887.7,1493.34 L888.1,1493.61 L888.5,1493.88 L888.89,1494.15 L889.29,1494.41 L889.69,1494.67 L890.09,1494.92 L890.49,1495.17 L890.89,1495.42 L891.29,1495.67 L891.69,1495.91 L892.08,1496.15 L892.48,1496.39 L892.88,1496.63 L893.28,1496.86 L893.68,1497.09 L894.08,1497.32 L894.48,1497.54 L894.87,1497.76 L895.27,1497.98 L895.67,1498.2 L896.07,1498.41 L896.47,1498.63 L896.87,1498.84 L897.27,1499.04 L897.66,1499.25 L898.06,1499.45 L898.46,1499.65 L898.86,1499.85 L899.26,1500.05 L899.66,1500.24 L900.06,1500.43 L900.45,1500.62 L900.85,1500.81 L901.25,1500.99 L901.65,1501.17 L902.05,1501.36 L902.45,1501.53 L902.85,1501.71 L903.25,1501.89 L903.64,1502.06 L904.04,1502.23 L904.44,1502.4 L904.84,1502.56 L905.24,1502.73 L905.64,1502.89 L906.04,1503.05 L906.43,1503.21 L906.83,1503.37 L907.23,1503.52 L907.63,1503.68 L908.03,1503.83 L908.43,1503.98 L908.83,1504.13 L909.22,1504.28 L909.62,1504.42 L910.02,1504.56 L910.42,1504.71 L910.82,1504.85 L911.22,1504.99 L911.62,1505.12 L912.02,1505.26 L912.41,1505.39 L912.81,1505.52 L913.21,1505.66 L913.61,1505.78 L914.01,1505.91 L914.41,1506.04 L914.81,1506.16 L915.2,1506.29 L915.6,1506.41 L916,1506.53 L916.4,1506.65 L916.8,1506.77 L917.2,1506.89 L917.6,1507 L917.99,1507.11 L918.39,1507.23 L918.79,1507.34 L919.19,1507.45 L919.59,1507.56 L919.99,1507.67 L920.39,1507.77 L920.78,1507.88 L921.18,1507.98 L921.58,1508.08 L921.98,1508.19 L922.38,1508.29 L922.78,1508.39 L923.18,1508.48 L923.58,1508.58 L923.97,1508.68 L924.37,1508.77 L924.77,1508.87 L925.17,1508.96 L925.57,1509.05 L925.97,1509.14 L926.37,1509.23 L926.76,1509.32 L927.16,1509.41 L927.56,1509.49 L927.96,1509.58 L928.36,1509.66 L928.76,1509.75 L929.16,1509.83 L929.55,1509.91 L929.95,1509.99 L930.35,1510.07 L930.75,1510.15 L931.15,1510.23 L931.55,1510.31 L931.95,1510.38 L932.34,1510.46 L932.74,1510.53 L933.14,1510.61 L933.54,1510.68 L933.94,1510.75 L934.34,1510.82 L934.74,1510.89 L935.14,1510.96 L935.53,1511.03 L935.93,1511.1 L936.33,1511.17 L936.73,1511.23 L937.13,1511.3 L937.53,1511.36 L937.93,1511.43 L938.32,1511.49 L938.72,1511.55 L939.12,1511.61 L939.52,1511.68 L939.92,1511.74 L940.32,1511.8 L940.72,1511.86 L941.11,1511.91 L941.51,1511.97 L941.91,1512.03 L942.31,1512.09 L942.71,1512.14 L943.11,1512.2 L943.51,1512.25 L943.9,1512.31 L944.3,1512.36 L944.7,1512.41 L945.1,1512.46 L945.5,1512.52 L945.9,1512.57 L946.3,1512.62 L946.7,1512.67 L947.09,1512.72 L947.49,1512.76 L947.89,1512.81 L948.29,1512.86 L948.69,1512.91 L949.09,1512.95 L949.49,1513 L949.88,1513.05 L950.28,1513.09 L950.68,1513.13 L951.08,1513.18 L951.48,1513.22 L951.88,1513.27 L952.28,1513.31 L952.67,1513.35 L953.07,1513.39 L953.47,1513.43 L953.87,1513.47 L954.27,1513.51 L954.67,1513.55 L955.07,1513.59 L955.47,1513.63 L955.86,1513.67 L956.26,1513.71 L956.66,1513.74 L957.06,1513.78 L957.46,1513.82 L957.86,1513.85 L958.26,1513.89 L958.65,1513.92 L959.05,1513.96 L959.45,1513.99 L959.85,1514.03" stroke="#f00" stroke-width="3.9" fill="none" stroke-linejoin="round" clip-path="url(#cD)"/>
<line x1="784.25" y1="1554" x2="784.25" y2="1331.85" stroke="#000" stroke-width="1.9" stroke-dasharray="4.8 2.7" stroke-dashoffset="5.5"/>
<line x1="815.75" y1="1554" x2="815.75" y2="1331.85" stroke="#000" stroke-width="1.9" stroke-dasharray="4.8 2.7" stroke-dashoffset="5.5"/>
<rect x="640.95" y="1331.85" width="318.9" height="222.15" stroke="#000" stroke-width="2" fill="none"/>
<path d="M800.4,1554 v-3.3 M800.4,1331.85 v3.3" stroke="#000" stroke-width="2" fill="none"/>
<path d="M640.95,1516.97 h3.3 M959.85,1516.97 h-3.3" stroke="#000" stroke-width="2" fill="none"/>
<g transform="translate(627.55,1529.88) scale(1,1.04)"><text x="-19.47" y="0" font-size="35" xml:space="preserve">0</text></g>
<path d="M640.95,1424.41 h3.3 M959.85,1424.41 h-3.3" stroke="#000" stroke-width="2" fill="none"/>
<g transform="translate(627.55,1437.31) scale(1,1.04)"><text x="-48.65" y="0" font-size="35" xml:space="preserve">0.5</text></g>
<g transform="translate(627.55,1344.75) scale(1,1.04)"><path transform="translate(-19.47,0) scale(35)" d="M0.359,0 V-0.703 H0.285 Q0.24,-0.61 0.095,-0.535 V-0.455 Q0.2,-0.5 0.27,-0.555 V0 Z"/></g>
<g transform="translate(635.12,1598.5) scale(1,1.04)"><text x="-25.29" y="0" font-size="35" xml:space="preserve">-</text><path transform="translate(-13.64,0) scale(35)" d="M0.359,0 V-0.703 H0.285 Q0.24,-0.61 0.095,-0.535 V-0.455 Q0.2,-0.5 0.27,-0.555 V0 Z"/><text x="5.83" y="0" font-size="35" xml:space="preserve">0</text></g>
<g transform="translate(800.4,1598.5) scale(1,1.04)"><text x="-9.73" y="0" font-size="35" xml:space="preserve">0</text></g>
<g transform="translate(959.85,1598.5) scale(1,1.04)"><path transform="translate(-19.47,0) scale(35)" d="M0.359,0 V-0.703 H0.285 Q0.24,-0.61 0.095,-0.535 V-0.455 Q0.2,-0.5 0.27,-0.555 V0 Z"/><text x="0" y="0" font-size="35" xml:space="preserve">0</text></g>
<g transform="translate(799.6,1650.6) scale(1,1.0)"><text x="-18.47" y="0" font-size="35" xml:space="preserve">z/t</text></g>
<g transform="translate(552.15,1442.92) rotate(-90) scale(1,1.04)"><text x="-68.06" y="0" font-size="35" xml:space="preserve">Hy (arb.)</text></g>
<g transform="translate(643.35,1374.15) scale(1,1.0)"><text x="0" y="0" font-size="35" xml:space="preserve">m</text></g>
<g transform="translate(672.75,1355.55) scale(1,1.0)"><text x="0" y="0" font-size="25" xml:space="preserve">o</text></g>
<g transform="translate(687.15,1374.15) scale(1,1.04)"><text x="0" y="0" font-size="35" xml:space="preserve">=0.2</text><path transform="translate(69.09,0) scale(35)" d="M0.359,0 V-0.703 H0.285 Q0.24,-0.61 0.095,-0.535 V-0.455 Q0.2,-0.5 0.27,-0.555 V0 Z"/></g>
<g transform="translate(950.85,1365.05) scale(1,1.044)"><text x="-25.28" y="0" font-size="35" xml:space="preserve">D</text></g>
</svg>
</body></html>
